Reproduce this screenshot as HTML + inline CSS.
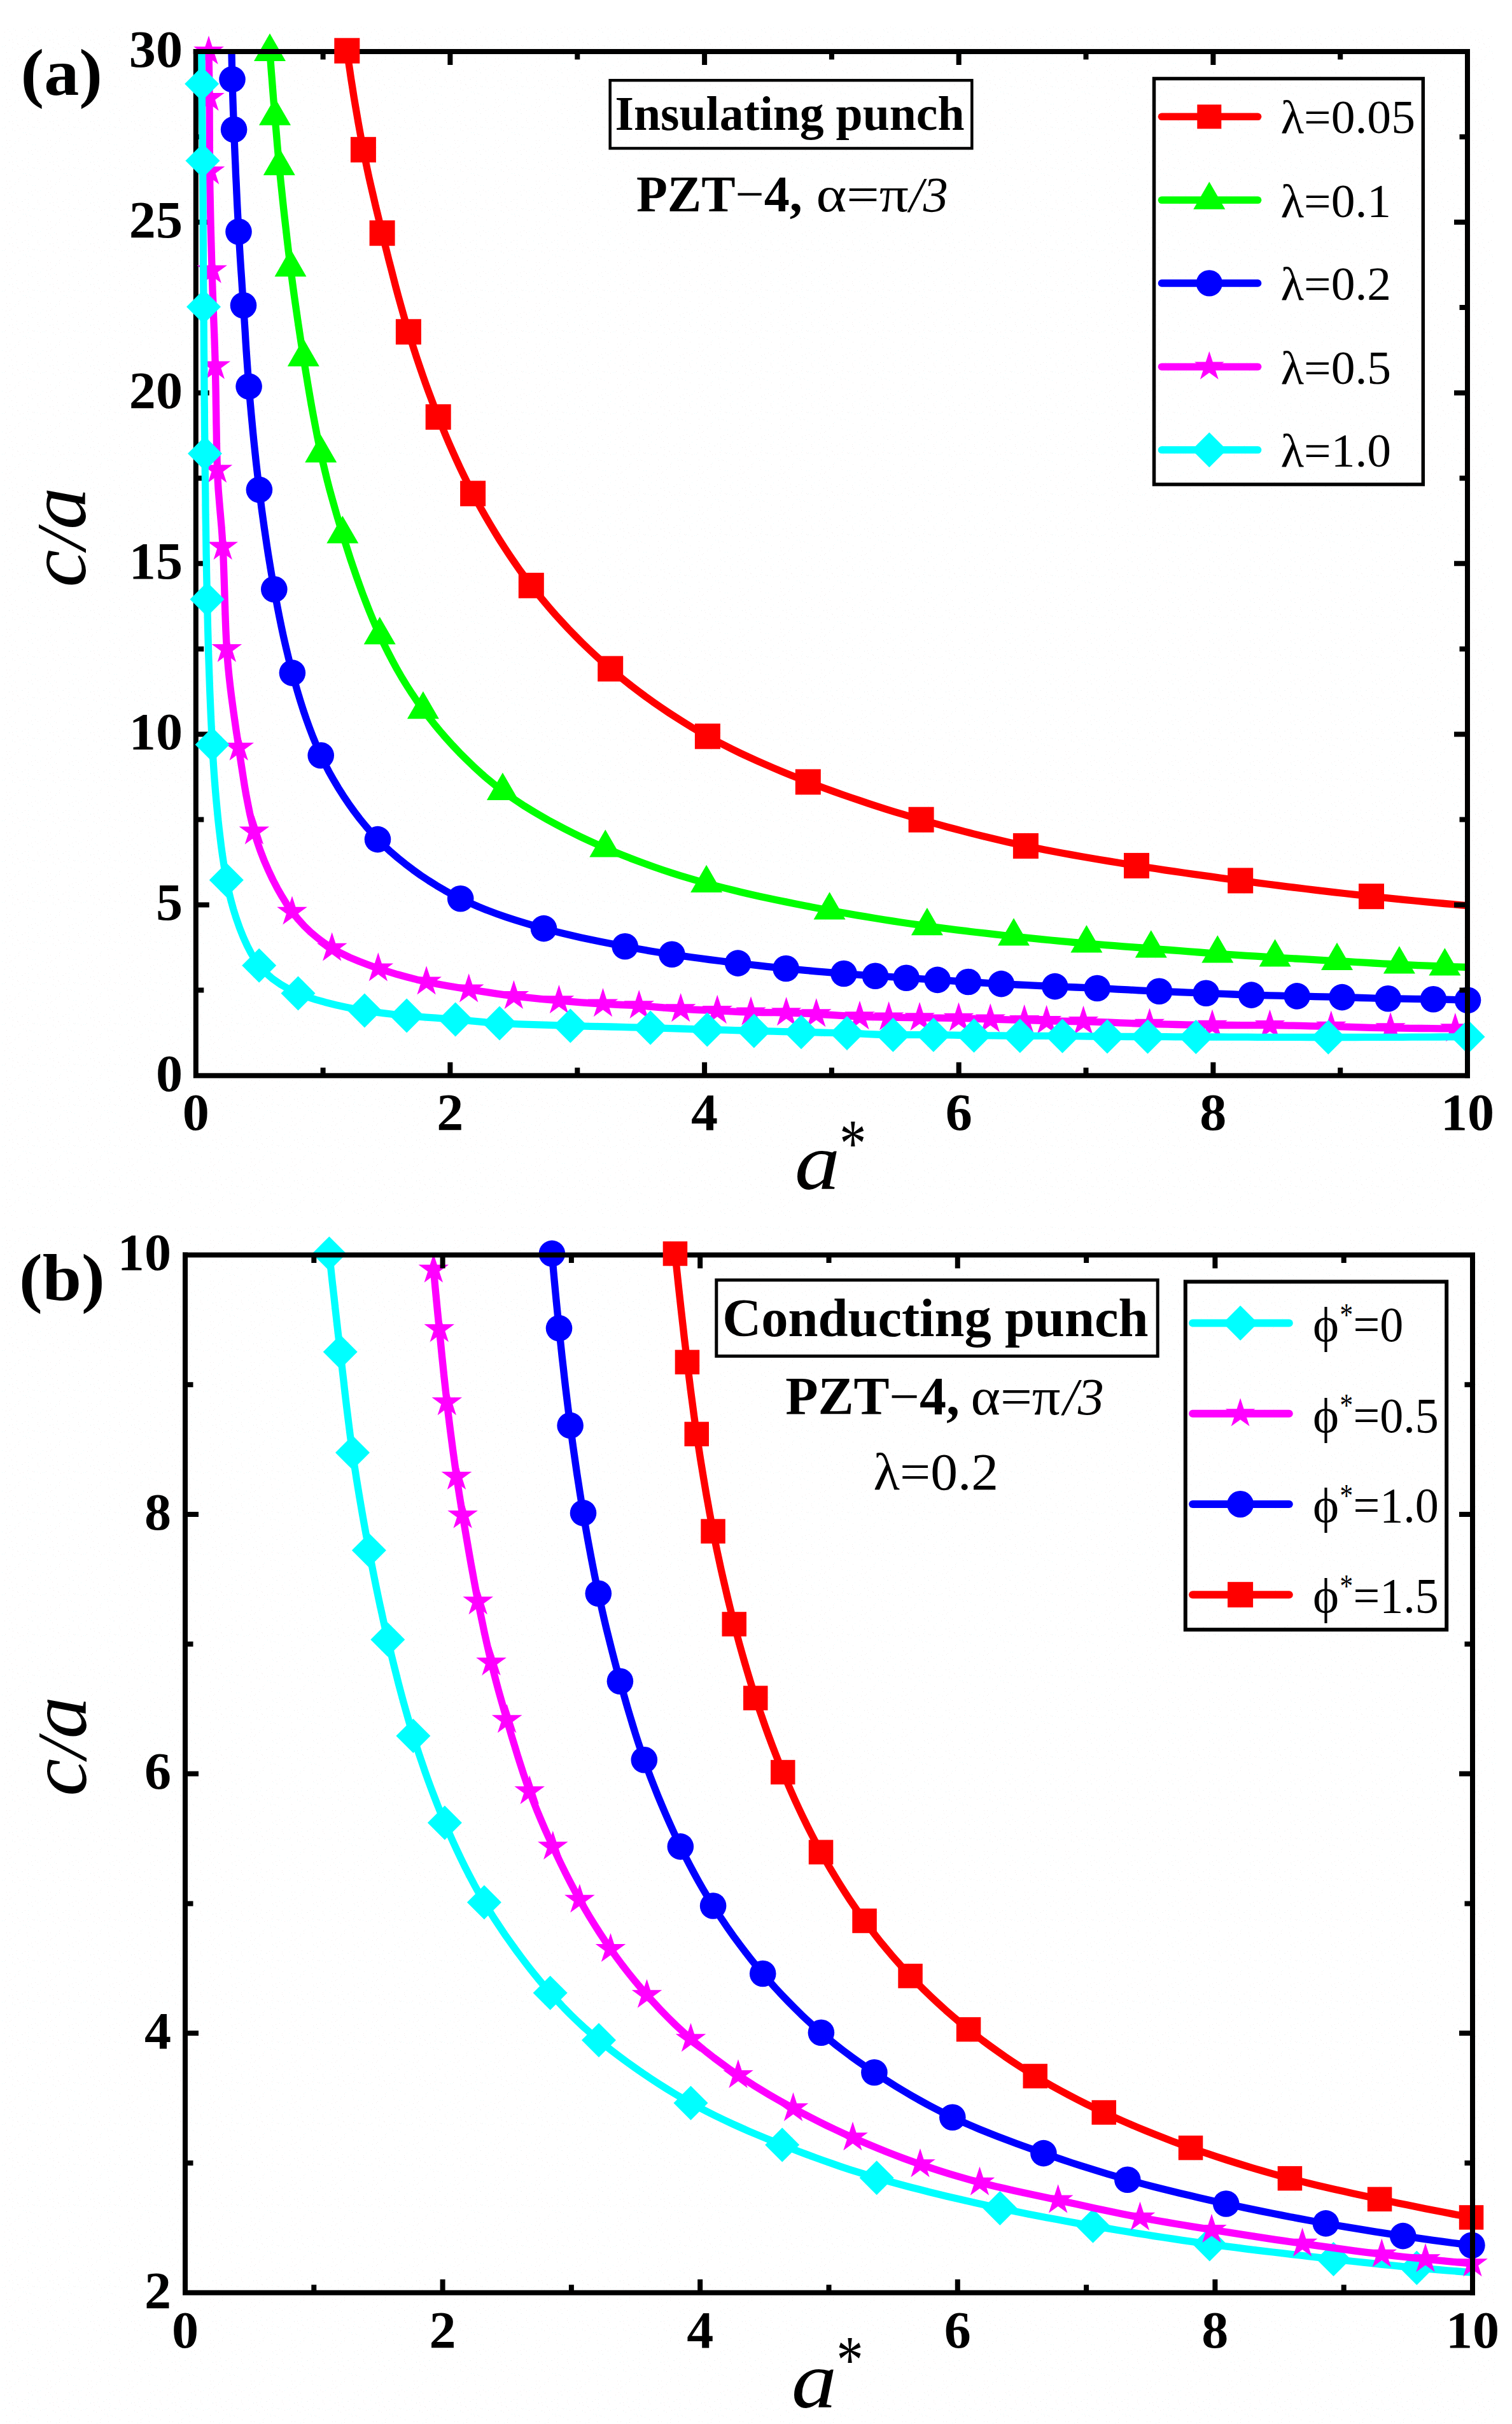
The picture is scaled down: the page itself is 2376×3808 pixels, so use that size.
<!DOCTYPE html>
<html><head><meta charset="utf-8"><title>c/a versus a*</title>
<style>html,body{margin:0;padding:0;background:#fff}svg{display:block}text{font-family:"Liberation Serif",serif;fill:#000}</style></head><body>
<svg width="2376" height="3808" viewBox="0 0 2376 3808">
<defs>
<clipPath id="ca"><rect x="307.8" y="80.9" width="1998.2" height="1608.8"/></clipPath>
<clipPath id="cb"><rect x="291.0" y="1971.5" width="2023.0" height="1630.2"/></clipPath>
<pattern id="tex" width="64" height="64" patternUnits="userSpaceOnUse"><rect width="64" height="64" fill="#ffffff"/><rect x="41" y="19" width="1" height="1" fill="#f5eded"/><rect x="6" y="9" width="1" height="1" fill="#eafbfb"/><rect x="12" y="46" width="1" height="1" fill="#f5eded"/><rect x="27" y="4" width="1" height="1" fill="#f5eded"/><rect x="53" y="8" width="1" height="1" fill="#f5eded"/><rect x="54" y="7" width="1" height="1" fill="#eafbfb"/><rect x="15" y="28" width="1" height="1" fill="#f5eded"/><rect x="7" y="50" width="1" height="1" fill="#f5eded"/><rect x="28" y="5" width="1" height="1" fill="#f5eded"/><rect x="17" y="37" width="1" height="1" fill="#f5eded"/><rect x="15" y="39" width="1" height="1" fill="#f5eded"/><rect x="23" y="13" width="1" height="1" fill="#f5eded"/><rect x="24" y="47" width="1" height="1" fill="#f5eded"/><rect x="8" y="7" width="1" height="1" fill="#f5eded"/><rect x="63" y="54" width="1" height="1" fill="#eafbfb"/><rect x="59" y="58" width="1" height="1" fill="#f5eded"/><rect x="31" y="23" width="1" height="1" fill="#eafbfb"/><rect x="31" y="10" width="1" height="1" fill="#f5eded"/><rect x="63" y="43" width="1" height="1" fill="#eafbfb"/><rect x="36" y="9" width="1" height="1" fill="#f5eded"/><rect x="53" y="21" width="1" height="1" fill="#eafbfb"/><rect x="19" y="62" width="1" height="1" fill="#f5eded"/><rect x="9" y="40" width="1" height="1" fill="#f5eded"/><rect x="44" y="63" width="1" height="1" fill="#f5eded"/><rect x="58" y="8" width="1" height="1" fill="#eafbfb"/><rect x="34" y="60" width="1" height="1" fill="#eafbfb"/><rect x="39" y="57" width="1" height="1" fill="#f5eded"/><rect x="49" y="44" width="1" height="1" fill="#f5eded"/><rect x="59" y="45" width="1" height="1" fill="#f5eded"/><rect x="14" y="63" width="1" height="1" fill="#f5eded"/><rect x="36" y="16" width="1" height="1" fill="#eafbfb"/><rect x="50" y="50" width="1" height="1" fill="#eafbfb"/><rect x="63" y="10" width="1" height="1" fill="#f5eded"/><rect x="51" y="35" width="1" height="1" fill="#eafbfb"/><rect x="55" y="35" width="1" height="1" fill="#eafbfb"/><rect x="45" y="48" width="1" height="1" fill="#eafbfb"/><rect x="19" y="10" width="1" height="1" fill="#f5eded"/><rect x="29" y="29" width="1" height="1" fill="#f5eded"/><rect x="23" y="33" width="1" height="1" fill="#f5eded"/><rect x="18" y="53" width="1" height="1" fill="#f5eded"/><rect x="40" y="16" width="1" height="1" fill="#eafbfb"/><rect x="6" y="58" width="1" height="1" fill="#eafbfb"/><rect x="51" y="50" width="1" height="1" fill="#f5eded"/><rect x="51" y="7" width="1" height="1" fill="#f5eded"/><rect x="26" y="56" width="1" height="1" fill="#f5eded"/><rect x="43" y="6" width="1" height="1" fill="#f5eded"/><rect x="19" y="12" width="1" height="1" fill="#eafbfb"/><rect x="3" y="9" width="1" height="1" fill="#eafbfb"/><rect x="48" y="19" width="1" height="1" fill="#f5eded"/><rect x="44" y="46" width="1" height="1" fill="#f5eded"/><rect x="14" y="62" width="1" height="1" fill="#eafbfb"/><rect x="59" y="61" width="1" height="1" fill="#f5eded"/><rect x="10" y="18" width="1" height="1" fill="#f5eded"/><rect x="43" y="33" width="1" height="1" fill="#f5eded"/><rect x="20" y="2" width="1" height="1" fill="#f5eded"/><rect x="46" y="18" width="1" height="1" fill="#eafbfb"/><rect x="3" y="38" width="1" height="1" fill="#eafbfb"/><rect x="11" y="33" width="1" height="1" fill="#f5eded"/><rect x="21" y="45" width="1" height="1" fill="#eafbfb"/><rect x="42" y="28" width="1" height="1" fill="#f5eded"/><rect x="24" y="30" width="1" height="1" fill="#eafbfb"/><rect x="29" y="25" width="1" height="1" fill="#f5eded"/><rect x="45" y="3" width="1" height="1" fill="#eafbfb"/><rect x="35" y="60" width="1" height="1" fill="#f5eded"/><rect x="44" y="57" width="1" height="1" fill="#eafbfb"/><rect x="10" y="28" width="1" height="1" fill="#f5eded"/><rect x="60" y="25" width="1" height="1" fill="#f5eded"/><rect x="61" y="0" width="1" height="1" fill="#f5eded"/><rect x="44" y="10" width="1" height="1" fill="#eafbfb"/><rect x="15" y="49" width="1" height="1" fill="#eafbfb"/><rect x="25" y="61" width="1" height="1" fill="#eafbfb"/><rect x="55" y="42" width="1" height="1" fill="#f5eded"/></pattern>
</defs>
<rect x="0" y="0" width="2376" height="3808" fill="#ffffff"/>
<rect x="0" y="42" width="2347" height="1871" fill="url(#tex)"/>
<rect x="0" y="1926" width="2351" height="1882" fill="url(#tex)"/>
<g id="panel-a">
<path d="M307.8 76.9V1689.7H2310.0M507.6 1689.7v-12.5M707.4 1689.7v-21.0M907.3 1689.7v-12.5M1107.1 1689.7v-21.0M1306.9 1689.7v-12.5M1506.7 1689.7v-21.0M1706.5 1689.7v-12.5M1906.4 1689.7v-21.0M2106.2 1689.7v-12.5M307.8 1555.6h12.5M307.8 1421.6h21.0M307.8 1287.5h12.5M307.8 1153.4h21.0M307.8 1019.4h12.5M307.8 885.3h21.0M307.8 751.2h12.5M307.8 617.2h21.0M307.8 483.1h12.5M307.8 349.0h21.0M307.8 215.0h12.5" stroke="#000" stroke-width="8" fill="none" stroke-linejoin="miter"/>
<text transform="translate(307.8,1774.6) scale(1.0200,1.0000)" font-size="82.5" text-anchor="middle" font-weight="bold" font-style="normal">0</text>
<text transform="translate(707.4,1774.6) scale(1.0200,1.0000)" font-size="82.5" text-anchor="middle" font-weight="bold" font-style="normal">2</text>
<text transform="translate(1107.1,1774.6) scale(1.0200,1.0000)" font-size="82.5" text-anchor="middle" font-weight="bold" font-style="normal">4</text>
<text transform="translate(1506.7,1774.6) scale(1.0200,1.0000)" font-size="82.5" text-anchor="middle" font-weight="bold" font-style="normal">6</text>
<text transform="translate(1906.4,1774.6) scale(1.0200,1.0000)" font-size="82.5" text-anchor="middle" font-weight="bold" font-style="normal">8</text>
<text transform="translate(2306.0,1774.6) scale(1.0200,1.0000)" font-size="82.5" text-anchor="middle" font-weight="bold" font-style="normal">10</text>
<text transform="translate(287.0,1713.5) scale(1.0200,1.0000)" font-size="82.5" text-anchor="end" font-weight="bold" font-style="normal">0</text>
<text transform="translate(287.0,1445.4) scale(1.0200,1.0000)" font-size="82.5" text-anchor="end" font-weight="bold" font-style="normal">5</text>
<text transform="translate(287.0,1177.2) scale(1.0200,1.0000)" font-size="82.5" text-anchor="end" font-weight="bold" font-style="normal">10</text>
<text transform="translate(287.0,909.1) scale(1.0200,1.0000)" font-size="82.5" text-anchor="end" font-weight="bold" font-style="normal">15</text>
<text transform="translate(287.0,641.0) scale(1.0200,1.0000)" font-size="82.5" text-anchor="end" font-weight="bold" font-style="normal">20</text>
<text transform="translate(287.0,372.8) scale(1.0200,1.0000)" font-size="82.5" text-anchor="end" font-weight="bold" font-style="normal">25</text>
<text transform="translate(287.0,104.7) scale(1.0200,1.0000)" font-size="82.5" text-anchor="end" font-weight="bold" font-style="normal">30</text>
<polyline points="424.0,81.5 425.2,96.7 426.3,111.6 427.5,126.3 428.6,140.7 429.7,154.9 430.9,168.8 432.0,182.4 433.3,198.3 434.6,213.2 435.8,228.1 437.2,243.6 438.8,260.8 440.0,273.1 441.3,286.3 442.8,300.3 444.3,314.8 445.9,329.8 447.6,345.0 449.4,360.4 451.1,375.7 452.9,390.9 454.7,405.7 456.5,420.0 458.3,434.4 460.2,448.7 462.1,462.8 464.1,476.8 466.1,490.8 468.1,504.7 470.2,518.7 472.3,532.7 474.5,546.8 476.8,561.0 479.2,576.0 481.7,591.1 484.2,606.4 486.8,621.8 489.5,637.2 492.3,652.5 495.2,667.7 498.1,682.7 501.1,697.6 504.2,712.1 507.5,726.7 510.9,740.9 514.3,754.9 517.9,768.7 521.7,782.5 525.6,796.3 529.6,810.3 533.9,824.5 538.3,839.1 542.3,851.9 546.5,865.0 550.8,878.4 555.4,892.0 560.1,905.7 565.0,919.4 570.0,933.1 575.2,946.6 580.4,959.9 585.8,973.0 591.2,985.6 596.7,997.8 603.3,1011.8 610.1,1025.4 617.0,1038.7 624.1,1051.7 631.5,1064.5 639.3,1077.1 647.4,1089.7 655.9,1102.3 664.9,1114.9 673.2,1125.9 682.0,1137.1 691.3,1148.4 701.1,1159.7 711.3,1171.0 721.9,1182.2 732.8,1193.1 743.9,1203.8 755.2,1214.2 766.7,1224.2 778.3,1233.7 789.9,1242.7 801.0,1250.8 812.6,1258.7 824.4,1266.4 836.6,1273.9 848.9,1281.2 861.5,1288.4 874.3,1295.3 887.1,1302.0 900.0,1308.5 912.9,1314.8 925.8,1320.8 938.6,1326.6 951.3,1332.1 964.3,1337.6 977.3,1342.9 990.2,1348.1 1003.2,1353.0 1016.2,1357.8 1029.3,1362.5 1042.4,1367.0 1055.7,1371.4 1069.0,1375.6 1082.5,1379.7 1096.2,1383.7 1110.1,1387.6 1123.3,1391.1 1136.7,1394.6 1150.5,1398.0 1164.4,1401.4 1178.4,1404.7 1192.6,1407.9 1206.8,1411.0 1221.0,1414.0 1235.2,1416.9 1249.2,1419.8 1263.2,1422.5 1276.9,1425.2 1290.4,1427.8 1303.6,1430.2 1318.2,1432.8 1332.6,1435.4 1346.8,1437.9 1360.9,1440.2 1374.9,1442.5 1388.7,1444.8 1402.5,1446.9 1416.2,1449.0 1429.8,1451.0 1443.4,1452.9 1456.9,1454.8 1472.4,1456.9 1487.9,1458.9 1503.3,1460.8 1518.6,1462.7 1533.7,1464.5 1548.8,1466.2 1563.7,1467.9 1578.4,1469.5 1593.0,1471.1 1607.8,1472.7 1622.4,1474.2 1636.9,1475.6 1651.2,1477.0 1665.4,1478.4 1679.5,1479.7 1693.5,1481.0 1707.4,1482.2 1722.2,1483.4 1736.8,1484.6 1751.2,1485.7 1765.5,1486.8 1779.9,1487.9 1794.3,1489.0 1808.8,1490.1 1823.7,1491.3 1838.8,1492.5 1853.9,1493.7 1869.0,1494.9 1884.0,1496.0 1898.8,1497.1 1913.3,1498.2 1928.7,1499.3 1943.8,1500.3 1958.6,1501.3 1973.5,1502.2 1988.4,1503.2 2003.6,1504.1 2019.6,1505.1 2035.8,1506.0 2052.1,1506.9 2068.4,1507.9 2084.7,1508.8 2101.0,1509.7 2115.1,1510.5 2129.4,1511.4 2143.8,1512.2 2158.0,1513.0 2172.1,1513.8 2185.7,1514.5 2198.9,1515.2 2214.3,1515.9 2229.5,1516.6 2244.2,1517.2 2257.9,1517.7 2270.4,1518.2 2289.0,1518.9 2306.0,1519.5 2323.1,1520.0 2340.0,1520.5" fill="none" stroke="#00ff00" stroke-width="11.3" stroke-linejoin="round" stroke-linecap="butt" clip-path="url(#ca)"/>
<polygon points="424.0,52.6 399.0,95.9 449.0,95.9" fill="#00ff00"/>
<polygon points="432.0,153.5 407.0,196.8 457.0,196.8" fill="#00ff00"/>
<polygon points="438.8,231.9 413.8,275.2 463.8,275.2" fill="#00ff00"/>
<polygon points="456.5,391.1 431.5,434.4 481.5,434.4" fill="#00ff00"/>
<polygon points="476.8,532.1 451.8,575.4 501.8,575.4" fill="#00ff00"/>
<polygon points="504.2,683.2 479.2,726.5 529.2,726.5" fill="#00ff00"/>
<polygon points="538.3,810.2 513.3,853.5 563.3,853.5" fill="#00ff00"/>
<polygon points="596.7,968.9 571.7,1012.2 621.7,1012.2" fill="#00ff00"/>
<polygon points="664.9,1086.0 639.9,1129.3 689.9,1129.3" fill="#00ff00"/>
<polygon points="789.9,1213.8 764.9,1257.1 814.9,1257.1" fill="#00ff00"/>
<polygon points="951.3,1303.2 926.3,1346.5 976.3,1346.5" fill="#00ff00"/>
<polygon points="1110.1,1358.7 1085.1,1402.0 1135.1,1402.0" fill="#00ff00"/>
<polygon points="1303.6,1401.3 1278.6,1444.6 1328.6,1444.6" fill="#00ff00"/>
<polygon points="1456.9,1425.9 1431.9,1469.2 1481.9,1469.2" fill="#00ff00"/>
<polygon points="1593.0,1442.2 1568.0,1485.5 1618.0,1485.5" fill="#00ff00"/>
<polygon points="1707.4,1453.3 1682.4,1496.6 1732.4,1496.6" fill="#00ff00"/>
<polygon points="1808.8,1461.2 1783.8,1504.5 1833.8,1504.5" fill="#00ff00"/>
<polygon points="1913.3,1469.3 1888.3,1512.6 1938.3,1512.6" fill="#00ff00"/>
<polygon points="2003.6,1475.2 1978.6,1518.5 2028.6,1518.5" fill="#00ff00"/>
<polygon points="2101.0,1480.8 2076.0,1524.1 2126.0,1524.1" fill="#00ff00"/>
<polygon points="2198.9,1486.3 2173.9,1529.6 2223.9,1529.6" fill="#00ff00"/>
<polygon points="2270.4,1489.3 2245.4,1532.6 2295.4,1532.6" fill="#00ff00"/>
<polyline points="363.2,40.0 363.4,54.3 363.7,68.5 364.0,82.7 364.3,96.7 364.6,110.7 365.0,124.6 365.4,140.1 365.9,155.1 366.4,170.2 367.0,186.1 367.6,203.5 368.1,216.0 368.6,229.5 369.2,243.7 369.9,258.6 370.5,274.0 371.3,289.5 372.0,305.1 372.7,320.6 373.5,335.7 374.3,350.2 375.0,364.0 375.9,379.3 376.8,394.1 377.7,408.5 378.6,422.7 379.6,436.7 380.5,450.8 381.5,465.1 382.5,479.7 383.4,493.5 384.3,507.3 385.2,521.2 386.0,535.1 386.9,549.1 387.9,563.3 388.9,577.7 390.0,592.3 391.1,607.1 392.2,621.1 393.5,635.5 394.8,650.0 396.2,664.8 397.6,679.7 399.1,694.8 400.7,709.8 402.3,724.9 404.0,739.8 405.7,754.7 407.4,769.4 409.2,783.8 411.0,798.2 413.0,812.7 415.0,827.1 417.1,841.5 419.2,855.8 421.4,870.1 423.7,884.2 426.0,898.2 428.4,912.1 430.8,925.7 433.6,940.8 436.4,955.8 439.3,970.5 442.3,985.1 445.4,999.6 448.7,1014.0 452.1,1028.3 455.6,1042.7 459.4,1057.1 463.4,1071.7 467.5,1086.3 471.9,1100.8 476.5,1115.4 481.4,1129.8 486.6,1144.2 492.1,1158.5 498.0,1172.7 504.2,1186.8 510.2,1199.2 516.7,1211.9 523.8,1224.5 531.3,1237.2 539.3,1249.8 547.6,1262.2 556.3,1274.4 565.3,1286.2 574.5,1297.5 583.9,1308.4 593.5,1318.6 603.5,1328.5 614.1,1338.3 625.3,1347.9 636.9,1357.2 648.9,1366.3 661.1,1375.1 673.6,1383.4 686.2,1391.3 698.8,1398.7 711.3,1405.6 723.7,1411.8 737.8,1418.3 752.1,1424.5 766.5,1430.3 781.1,1435.7 795.8,1440.8 810.5,1445.6 825.2,1450.2 839.9,1454.5 854.5,1458.6 868.8,1462.4 883.5,1466.0 898.3,1469.5 913.2,1472.9 927.8,1476.0 942.2,1479.0 956.2,1481.8 969.6,1484.4 982.2,1486.8 997.9,1489.7 1012.4,1492.3 1026.4,1494.7 1040.7,1497.0 1055.9,1499.3 1069.9,1501.4 1084.7,1503.5 1099.9,1505.5 1115.4,1507.6 1130.7,1509.5 1145.5,1511.4 1159.6,1513.1 1175.3,1515.0 1190.3,1516.7 1205.0,1518.4 1219.7,1519.9 1235.1,1521.5 1250.1,1522.9 1265.8,1524.4 1281.8,1525.8 1297.5,1527.2 1312.4,1528.4 1326.0,1529.5 1343.6,1530.9 1359.5,1532.1 1375.5,1533.2 1391.8,1534.2 1408.0,1535.2 1424.2,1536.2 1440.5,1537.3 1456.9,1538.3 1473.2,1539.4 1489.3,1540.4 1505.3,1541.5 1521.5,1542.5 1538.2,1543.5 1555.1,1544.6 1573.4,1545.6 1586.4,1546.3 1600.3,1547.0 1614.9,1547.6 1629.6,1548.3 1644.1,1549.0 1657.8,1549.6 1674.7,1550.3 1690.7,1551.0 1706.9,1551.7 1724.2,1552.5 1739.5,1553.2 1755.8,1554.1 1772.6,1554.9 1789.5,1555.8 1805.9,1556.6 1821.6,1557.3 1837.0,1557.9 1851.8,1558.5 1866.3,1559.1 1880.7,1559.6 1895.2,1560.2 1909.5,1560.8 1923.8,1561.4 1938.0,1562.0 1952.2,1562.6 1966.5,1563.1 1980.8,1563.5 1995.2,1563.9 2009.5,1564.2 2023.9,1564.6 2038.2,1564.9 2052.4,1565.2 2066.5,1565.6 2080.7,1565.9 2094.8,1566.2 2109.0,1566.6 2123.4,1567.0 2137.9,1567.5 2152.3,1567.9 2166.8,1568.4 2181.2,1568.7 2195.6,1568.9 2210.2,1569.1 2224.7,1569.3 2238.8,1569.5 2252.4,1569.7 2271.2,1570.1 2289.3,1570.7 2306.5,1571.3" fill="none" stroke="#0000ff" stroke-width="11.3" stroke-linejoin="round" stroke-linecap="butt" clip-path="url(#ca)"/>
<circle cx="365.0" cy="124.6" r="20.8" fill="#0000ff"/>
<circle cx="367.6" cy="203.5" r="20.8" fill="#0000ff"/>
<circle cx="375.0" cy="364.0" r="20.8" fill="#0000ff"/>
<circle cx="382.5" cy="479.7" r="20.8" fill="#0000ff"/>
<circle cx="391.1" cy="607.1" r="20.8" fill="#0000ff"/>
<circle cx="407.4" cy="769.4" r="20.8" fill="#0000ff"/>
<circle cx="430.8" cy="925.7" r="20.8" fill="#0000ff"/>
<circle cx="459.4" cy="1057.1" r="20.8" fill="#0000ff"/>
<circle cx="504.2" cy="1186.8" r="20.8" fill="#0000ff"/>
<circle cx="593.5" cy="1318.6" r="20.8" fill="#0000ff"/>
<circle cx="723.7" cy="1411.8" r="20.8" fill="#0000ff"/>
<circle cx="854.5" cy="1458.6" r="20.8" fill="#0000ff"/>
<circle cx="982.2" cy="1486.8" r="20.8" fill="#0000ff"/>
<circle cx="1055.9" cy="1499.3" r="20.8" fill="#0000ff"/>
<circle cx="1159.6" cy="1513.1" r="20.8" fill="#0000ff"/>
<circle cx="1235.1" cy="1521.5" r="20.8" fill="#0000ff"/>
<circle cx="1326.0" cy="1529.5" r="20.8" fill="#0000ff"/>
<circle cx="1375.5" cy="1533.2" r="20.8" fill="#0000ff"/>
<circle cx="1424.2" cy="1536.2" r="20.8" fill="#0000ff"/>
<circle cx="1473.2" cy="1539.4" r="20.8" fill="#0000ff"/>
<circle cx="1521.5" cy="1542.5" r="20.8" fill="#0000ff"/>
<circle cx="1573.4" cy="1545.6" r="20.8" fill="#0000ff"/>
<circle cx="1657.8" cy="1549.6" r="20.8" fill="#0000ff"/>
<circle cx="1724.2" cy="1552.5" r="20.8" fill="#0000ff"/>
<circle cx="1821.6" cy="1557.3" r="20.8" fill="#0000ff"/>
<circle cx="1895.2" cy="1560.2" r="20.8" fill="#0000ff"/>
<circle cx="1966.5" cy="1563.1" r="20.8" fill="#0000ff"/>
<circle cx="2038.2" cy="1564.9" r="20.8" fill="#0000ff"/>
<circle cx="2109.0" cy="1566.6" r="20.8" fill="#0000ff"/>
<circle cx="2181.2" cy="1568.7" r="20.8" fill="#0000ff"/>
<circle cx="2252.4" cy="1569.7" r="20.8" fill="#0000ff"/>
<circle cx="2306.5" cy="1571.3" r="20.8" fill="#0000ff"/>
<polyline points="328.0,80.9 328.2,94.1 328.5,108.0 328.7,122.6 328.9,137.8 329.0,153.7 329.1,166.7 329.2,180.3 329.2,194.3 329.3,208.7 329.3,223.5 329.4,238.5 329.5,253.8 329.6,269.2 329.7,282.4 329.9,296.0 330.2,309.9 330.5,324.0 330.8,338.3 331.1,352.7 331.5,367.2 331.9,381.7 332.3,396.1 332.7,410.4 333.1,424.5 333.5,439.6 334.0,454.7 334.6,469.7 335.2,484.7 335.7,499.7 336.3,514.7 336.9,529.7 337.4,544.8 337.9,560.0 338.3,575.3 338.6,589.9 338.9,604.8 339.2,619.9 339.4,635.0 339.7,650.2 339.9,665.4 340.2,680.4 340.4,695.2 340.7,709.8 341.1,724.1 341.5,738.0 342.2,753.9 343.1,769.1 344.3,783.9 345.5,798.5 346.8,813.2 348.1,828.0 349.2,843.2 350.2,859.0 350.9,872.7 351.4,886.8 351.9,901.2 352.4,915.9 352.9,930.7 353.3,945.6 353.8,960.5 354.3,975.5 354.9,990.4 355.6,1005.1 356.4,1019.7 357.4,1034.0 358.6,1048.2 360.0,1062.5 361.6,1076.8 363.3,1091.0 365.2,1105.2 367.1,1119.3 369.1,1133.3 371.1,1147.2 373.2,1160.9 375.2,1174.5 377.4,1189.7 379.7,1204.7 382.0,1219.5 384.3,1234.3 386.8,1248.8 389.6,1263.3 392.5,1277.7 395.8,1292.0 399.4,1306.2 403.8,1321.0 409.0,1336.1 414.9,1351.4 421.5,1366.6 428.5,1381.5 435.9,1395.7 443.6,1409.1 451.3,1421.5 459.0,1432.4 468.3,1443.9 478.1,1454.7 488.5,1464.7 499.3,1473.8 510.4,1482.1 521.7,1489.5 535.3,1497.2 549.6,1504.1 564.4,1510.3 579.4,1516.0 594.3,1521.3 609.3,1526.2 624.6,1530.8 639.9,1535.0 655.1,1538.9 670.1,1542.3 686.9,1545.7 703.5,1548.7 720.0,1551.5 736.7,1554.2 750.7,1556.5 764.8,1558.7 779.0,1560.9 793.2,1562.9 807.4,1564.7 821.6,1566.3 835.8,1567.9 850.0,1569.3 864.3,1570.6 878.4,1571.9 895.9,1573.4 913.4,1574.8 930.7,1576.0 947.5,1577.1 962.0,1577.9 975.9,1578.5 989.9,1579.1 1004.2,1579.9 1020.3,1581.1 1036.9,1582.5 1053.5,1583.9 1069.7,1585.0 1084.4,1585.8 1098.8,1586.5 1113.1,1587.2 1127.2,1587.8 1144.9,1588.7 1162.4,1589.6 1180.0,1590.2 1198.6,1590.5 1217.4,1590.7 1235.6,1591.0 1251.3,1591.5 1266.6,1592.2 1282.8,1593.0 1299.3,1594.0 1317.0,1595.1 1334.6,1596.2 1351.0,1597.0 1366.8,1597.5 1381.7,1597.8 1396.7,1598.1 1412.5,1598.4 1428.5,1598.7 1445.1,1598.9 1460.1,1599.1 1475.7,1599.2 1491.4,1599.3 1506.5,1599.5 1523.4,1599.9 1539.8,1600.6 1556.3,1601.2 1574.4,1601.7 1592.7,1602.2 1609.7,1602.7 1627.1,1603.2 1644.6,1603.7 1657.6,1604.0 1671.6,1604.2 1686.6,1604.5 1702.5,1604.8 1715.7,1605.2 1730.0,1605.7 1745.0,1606.2 1760.5,1606.8 1776.1,1607.4 1791.5,1608.0 1806.5,1608.4 1820.7,1608.8 1835.0,1609.1 1849.1,1609.5 1863.2,1609.8 1877.2,1610.1 1891.2,1610.3 1905.0,1610.4 1920.3,1610.5 1935.3,1610.5 1950.3,1610.6 1965.3,1610.6 1980.3,1610.6 1995.5,1610.7 2011.4,1610.8 2027.4,1611.1 2043.6,1611.4 2059.7,1611.8 2075.8,1612.1 2091.8,1612.5 2107.4,1612.9 2122.9,1613.4 2138.3,1613.8 2153.8,1614.3 2169.3,1614.7 2185.1,1615.0 2200.2,1615.2 2216.3,1615.4 2232.9,1615.5 2249.0,1615.7 2263.9,1615.8 2276.8,1615.9 2286.8,1616.0 2296.9,1616.1 2306.0,1616.2 2321.8,1616.3 2340.0,1616.5" fill="none" stroke="#ff00ff" stroke-width="11.3" stroke-linejoin="round" stroke-linecap="butt" clip-path="url(#ca)"/>
<polygon points="328.0,55.9 333.6,73.2 351.8,73.2 337.1,83.9 342.7,101.1 328.0,90.5 313.3,101.1 318.9,83.9 304.2,73.2 322.4,73.2" fill="#ff00ff"/>
<polygon points="329.0,128.7 334.6,146.0 352.8,146.0 338.1,156.7 343.7,173.9 329.0,163.2 314.3,173.9 319.9,156.7 305.2,146.0 323.4,146.0" fill="#ff00ff"/>
<polygon points="329.6,244.2 335.2,261.5 353.4,261.5 338.7,272.2 344.3,289.4 329.6,278.8 314.9,289.4 320.5,272.2 305.8,261.5 324.0,261.5" fill="#ff00ff"/>
<polygon points="333.1,399.5 338.7,416.8 356.9,416.8 342.2,427.5 347.8,444.7 333.1,434.1 318.4,444.7 324.0,427.5 309.3,416.8 327.5,416.8" fill="#ff00ff"/>
<polygon points="338.3,550.3 343.9,567.6 362.1,567.6 347.4,578.3 353.0,595.5 338.3,584.8 323.6,595.5 329.2,578.3 314.5,567.6 332.7,567.6" fill="#ff00ff"/>
<polygon points="341.5,713.0 347.1,730.3 365.3,730.3 350.6,741.0 356.2,758.2 341.5,747.5 326.8,758.2 332.4,741.0 317.7,730.3 335.9,730.3" fill="#ff00ff"/>
<polygon points="350.2,834.0 355.8,851.3 374.0,851.3 359.3,862.0 364.9,879.2 350.2,868.5 335.5,879.2 341.1,862.0 326.4,851.3 344.6,851.3" fill="#ff00ff"/>
<polygon points="356.4,994.7 362.0,1012.0 380.2,1012.0 365.5,1022.7 371.1,1039.9 356.4,1029.2 341.7,1039.9 347.3,1022.7 332.6,1012.0 350.8,1012.0" fill="#ff00ff"/>
<polygon points="375.2,1149.5 380.8,1166.8 399.0,1166.8 384.3,1177.5 389.9,1194.7 375.2,1184.0 360.5,1194.7 366.1,1177.5 351.4,1166.8 369.6,1166.8" fill="#ff00ff"/>
<polygon points="399.4,1281.2 405.0,1298.5 423.2,1298.5 408.5,1309.2 414.1,1326.4 399.4,1315.8 384.7,1326.4 390.3,1309.2 375.6,1298.5 393.8,1298.5" fill="#ff00ff"/>
<polygon points="459.0,1407.4 464.6,1424.7 482.8,1424.7 468.1,1435.4 473.7,1452.6 459.0,1442.0 444.3,1452.6 449.9,1435.4 435.2,1424.7 453.4,1424.7" fill="#ff00ff"/>
<polygon points="521.7,1464.5 527.3,1481.8 545.5,1481.8 530.8,1492.5 536.4,1509.7 521.7,1499.0 507.0,1509.7 512.6,1492.5 497.9,1481.8 516.1,1481.8" fill="#ff00ff"/>
<polygon points="594.3,1496.3 599.9,1513.6 618.1,1513.6 603.4,1524.3 609.0,1541.5 594.3,1530.8 579.6,1541.5 585.2,1524.3 570.5,1513.6 588.7,1513.6" fill="#ff00ff"/>
<polygon points="670.1,1517.3 675.7,1534.6 693.9,1534.6 679.2,1545.3 684.8,1562.5 670.1,1551.8 655.4,1562.5 661.0,1545.3 646.3,1534.6 664.5,1534.6" fill="#ff00ff"/>
<polygon points="736.7,1529.2 742.3,1546.5 760.5,1546.5 745.8,1557.2 751.4,1574.4 736.7,1563.8 722.0,1574.4 727.6,1557.2 712.9,1546.5 731.1,1546.5" fill="#ff00ff"/>
<polygon points="807.4,1539.7 813.0,1557.0 831.2,1557.0 816.5,1567.7 822.1,1584.9 807.4,1574.2 792.7,1584.9 798.3,1567.7 783.6,1557.0 801.8,1557.0" fill="#ff00ff"/>
<polygon points="878.4,1546.9 884.0,1564.2 902.2,1564.2 887.5,1574.9 893.1,1592.1 878.4,1581.5 863.7,1592.1 869.3,1574.9 854.6,1564.2 872.8,1564.2" fill="#ff00ff"/>
<polygon points="947.5,1552.1 953.1,1569.4 971.3,1569.4 956.6,1580.1 962.2,1597.3 947.5,1586.6 932.8,1597.3 938.4,1580.1 923.7,1569.4 941.9,1569.4" fill="#ff00ff"/>
<polygon points="1004.2,1554.9 1009.8,1572.2 1028.0,1572.2 1013.3,1582.9 1018.9,1600.1 1004.2,1589.5 989.5,1600.1 995.1,1582.9 980.4,1572.2 998.6,1572.2" fill="#ff00ff"/>
<polygon points="1069.7,1560.0 1075.3,1577.3 1093.5,1577.3 1078.8,1588.0 1084.4,1605.2 1069.7,1594.5 1055.0,1605.2 1060.6,1588.0 1045.9,1577.3 1064.1,1577.3" fill="#ff00ff"/>
<polygon points="1127.2,1562.8 1132.8,1580.1 1151.0,1580.1 1136.3,1590.8 1141.9,1608.0 1127.2,1597.3 1112.5,1608.0 1118.1,1590.8 1103.4,1580.1 1121.6,1580.1" fill="#ff00ff"/>
<polygon points="1180.0,1565.2 1185.6,1582.5 1203.8,1582.5 1189.1,1593.2 1194.7,1610.4 1180.0,1599.8 1165.3,1610.4 1170.9,1593.2 1156.2,1582.5 1174.4,1582.5" fill="#ff00ff"/>
<polygon points="1235.6,1566.0 1241.2,1583.3 1259.4,1583.3 1244.7,1594.0 1250.3,1611.2 1235.6,1600.5 1220.9,1611.2 1226.5,1594.0 1211.8,1583.3 1230.0,1583.3" fill="#ff00ff"/>
<polygon points="1282.8,1568.0 1288.4,1585.3 1306.6,1585.3 1291.9,1596.0 1297.5,1613.2 1282.8,1602.5 1268.1,1613.2 1273.7,1596.0 1259.0,1585.3 1277.2,1585.3" fill="#ff00ff"/>
<polygon points="1351.0,1572.0 1356.6,1589.3 1374.8,1589.3 1360.1,1600.0 1365.7,1617.2 1351.0,1606.5 1336.3,1617.2 1341.9,1600.0 1327.2,1589.3 1345.4,1589.3" fill="#ff00ff"/>
<polygon points="1396.7,1573.1 1402.3,1590.4 1420.5,1590.4 1405.8,1601.1 1411.4,1618.3 1396.7,1607.6 1382.0,1618.3 1387.6,1601.1 1372.9,1590.4 1391.1,1590.4" fill="#ff00ff"/>
<polygon points="1445.1,1573.9 1450.7,1591.2 1468.9,1591.2 1454.2,1601.9 1459.8,1619.1 1445.1,1608.5 1430.4,1619.1 1436.0,1601.9 1421.3,1591.2 1439.5,1591.2" fill="#ff00ff"/>
<polygon points="1506.5,1574.5 1512.1,1591.8 1530.3,1591.8 1515.6,1602.5 1521.2,1619.7 1506.5,1609.0 1491.8,1619.7 1497.4,1602.5 1482.7,1591.8 1500.9,1591.8" fill="#ff00ff"/>
<polygon points="1556.3,1576.2 1561.9,1593.5 1580.1,1593.5 1565.4,1604.2 1571.0,1621.4 1556.3,1610.8 1541.6,1621.4 1547.2,1604.2 1532.5,1593.5 1550.7,1593.5" fill="#ff00ff"/>
<polygon points="1609.7,1577.7 1615.3,1595.0 1633.5,1595.0 1618.8,1605.7 1624.4,1622.9 1609.7,1612.2 1595.0,1622.9 1600.6,1605.7 1585.9,1595.0 1604.1,1595.0" fill="#ff00ff"/>
<polygon points="1644.6,1578.7 1650.2,1596.0 1668.4,1596.0 1653.7,1606.7 1659.3,1623.9 1644.6,1613.2 1629.9,1623.9 1635.5,1606.7 1620.8,1596.0 1639.0,1596.0" fill="#ff00ff"/>
<polygon points="1702.5,1579.8 1708.1,1597.1 1726.3,1597.1 1711.6,1607.8 1717.2,1625.0 1702.5,1614.3 1687.8,1625.0 1693.4,1607.8 1678.7,1597.1 1696.9,1597.1" fill="#ff00ff"/>
<polygon points="1806.5,1583.4 1812.1,1600.7 1830.3,1600.7 1815.6,1611.4 1821.2,1628.6 1806.5,1618.0 1791.8,1628.6 1797.4,1611.4 1782.7,1600.7 1800.9,1600.7" fill="#ff00ff"/>
<polygon points="1905.0,1585.4 1910.6,1602.7 1928.8,1602.7 1914.1,1613.4 1919.7,1630.6 1905.0,1620.0 1890.3,1630.6 1895.9,1613.4 1881.2,1602.7 1899.4,1602.7" fill="#ff00ff"/>
<polygon points="1995.5,1585.7 2001.1,1603.0 2019.3,1603.0 2004.6,1613.7 2010.2,1630.9 1995.5,1620.2 1980.8,1630.9 1986.4,1613.7 1971.7,1603.0 1989.9,1603.0" fill="#ff00ff"/>
<polygon points="2091.8,1587.5 2097.4,1604.8 2115.6,1604.8 2100.9,1615.5 2106.5,1632.7 2091.8,1622.0 2077.1,1632.7 2082.7,1615.5 2068.0,1604.8 2086.2,1604.8" fill="#ff00ff"/>
<polygon points="2185.1,1590.0 2190.7,1607.3 2208.9,1607.3 2194.2,1618.0 2199.8,1635.2 2185.1,1624.5 2170.4,1635.2 2176.0,1618.0 2161.3,1607.3 2179.5,1607.3" fill="#ff00ff"/>
<polygon points="2286.8,1591.0 2292.4,1608.3 2310.6,1608.3 2295.9,1619.0 2301.5,1636.2 2286.8,1625.5 2272.1,1636.2 2277.7,1619.0 2263.0,1608.3 2281.2,1608.3" fill="#ff00ff"/>
<polyline points="316.7,40.0 316.7,54.4 316.8,69.2 316.9,84.3 317.0,99.8 317.1,115.6 317.2,131.7 317.3,145.7 317.5,159.9 317.6,174.2 317.8,188.8 318.0,203.8 318.2,219.4 318.3,235.6 318.5,252.5 318.6,264.7 318.7,277.5 318.8,290.8 318.9,304.5 319.0,318.6 319.1,333.0 319.2,347.6 319.2,362.5 319.3,377.5 319.4,392.5 319.5,407.7 319.6,422.8 319.7,437.8 319.8,452.8 319.9,467.5 320.0,482.0 320.1,496.4 320.2,510.8 320.3,525.2 320.4,539.6 320.5,554.0 320.7,568.5 320.8,582.9 320.9,597.3 321.0,611.7 321.1,626.2 321.3,640.6 321.4,655.0 321.5,669.4 321.7,683.8 321.8,698.2 322.0,712.6 322.2,726.9 322.3,741.3 322.5,755.6 322.7,769.9 322.9,784.2 323.0,798.6 323.2,812.9 323.5,827.2 323.7,841.5 323.9,855.8 324.1,870.1 324.4,884.4 324.6,898.7 324.9,913.0 325.2,927.3 325.5,941.6 325.8,955.9 326.2,970.2 326.5,984.5 326.9,998.9 327.3,1013.2 327.7,1027.6 328.2,1041.9 328.7,1056.3 329.2,1070.6 329.7,1084.9 330.3,1099.1 330.9,1113.4 331.5,1127.6 332.2,1141.7 332.9,1155.8 333.6,1169.8 334.4,1184.3 335.3,1199.0 336.3,1213.8 337.4,1228.6 338.6,1243.4 339.9,1258.2 341.3,1272.9 342.7,1287.5 344.3,1301.9 346.0,1316.1 347.7,1330.1 349.6,1343.7 351.6,1357.0 353.6,1370.0 355.8,1382.5 358.9,1397.8 362.6,1413.2 366.8,1428.6 371.6,1443.7 376.8,1458.3 382.4,1472.3 388.3,1485.3 394.4,1497.2 400.8,1507.8 407.2,1516.8 417.3,1528.0 428.7,1537.9 441.1,1546.5 454.5,1554.1 468.5,1560.6 481.7,1565.6 496.3,1570.4 511.8,1574.7 527.8,1578.7 543.7,1582.2 558.9,1585.2 572.9,1587.6 590.3,1590.1 606.5,1592.2 622.5,1594.0 639.1,1595.6 654.1,1596.9 669.5,1598.1 685.1,1599.2 700.5,1600.3 715.7,1601.5 732.9,1603.1 749.6,1604.7 766.7,1606.3 785.0,1607.5 799.4,1608.2 814.6,1608.8 830.4,1609.4 846.7,1609.9 863.2,1610.4 879.8,1610.9 896.3,1611.4 911.8,1611.8 927.7,1612.3 943.9,1612.7 960.1,1613.0 976.2,1613.4 992.0,1613.8 1007.4,1614.2 1022.1,1614.6 1037.9,1615.1 1053.3,1615.6 1068.2,1616.0 1082.8,1616.5 1097.1,1617.0 1111.3,1617.4 1126.4,1617.8 1141.2,1618.2 1155.7,1618.6 1170.2,1619.0 1184.8,1619.4 1199.6,1619.8 1214.5,1620.2 1229.4,1620.6 1244.2,1620.9 1259.0,1621.3 1273.5,1621.6 1287.9,1622.0 1302.2,1622.3 1316.6,1622.6 1331.0,1623.0 1345.5,1623.5 1360.2,1624.3 1374.8,1625.0 1389.2,1625.5 1403.4,1625.7 1419.6,1625.7 1435.4,1625.7 1451.1,1625.7 1466.9,1625.7 1482.7,1625.8 1498.4,1626.1 1514.3,1626.5 1530.5,1626.7 1544.7,1626.8 1559.2,1626.9 1573.9,1627.0 1588.5,1627.1 1602.8,1627.2 1619.6,1627.3 1636.2,1627.3 1652.8,1627.4 1669.5,1627.5 1683.5,1627.6 1697.7,1627.8 1712.0,1628.0 1726.1,1628.2 1740.0,1628.3 1756.0,1628.4 1771.6,1628.5 1787.3,1628.5 1803.5,1628.6 1817.7,1628.7 1831.7,1628.7 1846.2,1628.8 1861.9,1628.8 1879.3,1628.9 1890.8,1628.9 1903.2,1629.0 1916.6,1629.0 1930.6,1629.1 1945.3,1629.2 1960.5,1629.2 1976.1,1629.3 1992.1,1629.3 2008.1,1629.4 2024.3,1629.4 2040.4,1629.4 2056.3,1629.5 2072.0,1629.5 2087.3,1629.5 2101.7,1629.5 2116.2,1629.5 2130.7,1629.5 2145.2,1629.4 2159.7,1629.4 2174.3,1629.4 2188.9,1629.3 2203.5,1629.3 2218.1,1629.2 2232.8,1629.1 2247.5,1629.1 2262.2,1629.0 2276.9,1628.9 2291.7,1628.8 2306.5,1628.7" fill="none" stroke="#00ffff" stroke-width="11.3" stroke-linejoin="round" stroke-linecap="butt" clip-path="url(#ca)"/>
<polygon points="317.2,104.7 344.2,131.7 317.2,158.7 290.2,131.7" fill="#00ffff"/>
<polygon points="318.5,225.5 345.5,252.5 318.5,279.5 291.5,252.5" fill="#00ffff"/>
<polygon points="320.0,455.0 347.0,482.0 320.0,509.0 293.0,482.0" fill="#00ffff"/>
<polygon points="322.0,685.6 349.0,712.6 322.0,739.6 295.0,712.6" fill="#00ffff"/>
<polygon points="325.5,914.6 352.5,941.6 325.5,968.6 298.5,941.6" fill="#00ffff"/>
<polygon points="333.6,1142.8 360.6,1169.8 333.6,1196.8 306.6,1169.8" fill="#00ffff"/>
<polygon points="355.8,1355.5 382.8,1382.5 355.8,1409.5 328.8,1382.5" fill="#00ffff"/>
<polygon points="407.2,1489.8 434.2,1516.8 407.2,1543.8 380.2,1516.8" fill="#00ffff"/>
<polygon points="468.5,1533.6 495.5,1560.6 468.5,1587.6 441.5,1560.6" fill="#00ffff"/>
<polygon points="572.9,1560.6 599.9,1587.6 572.9,1614.6 545.9,1587.6" fill="#00ffff"/>
<polygon points="639.1,1568.6 666.1,1595.6 639.1,1622.6 612.1,1595.6" fill="#00ffff"/>
<polygon points="715.7,1574.5 742.7,1601.5 715.7,1628.5 688.7,1601.5" fill="#00ffff"/>
<polygon points="785.0,1580.5 812.0,1607.5 785.0,1634.5 758.0,1607.5" fill="#00ffff"/>
<polygon points="896.3,1584.4 923.3,1611.4 896.3,1638.4 869.3,1611.4" fill="#00ffff"/>
<polygon points="1022.1,1587.6 1049.1,1614.6 1022.1,1641.6 995.1,1614.6" fill="#00ffff"/>
<polygon points="1111.3,1590.4 1138.3,1617.4 1111.3,1644.4 1084.3,1617.4" fill="#00ffff"/>
<polygon points="1184.8,1592.4 1211.8,1619.4 1184.8,1646.4 1157.8,1619.4" fill="#00ffff"/>
<polygon points="1259.0,1594.3 1286.0,1621.3 1259.0,1648.3 1232.0,1621.3" fill="#00ffff"/>
<polygon points="1331.0,1596.0 1358.0,1623.0 1331.0,1650.0 1304.0,1623.0" fill="#00ffff"/>
<polygon points="1403.4,1598.7 1430.4,1625.7 1403.4,1652.7 1376.4,1625.7" fill="#00ffff"/>
<polygon points="1466.9,1598.7 1493.9,1625.7 1466.9,1652.7 1439.9,1625.7" fill="#00ffff"/>
<polygon points="1530.5,1599.7 1557.5,1626.7 1530.5,1653.7 1503.5,1626.7" fill="#00ffff"/>
<polygon points="1602.8,1600.2 1629.8,1627.2 1602.8,1654.2 1575.8,1627.2" fill="#00ffff"/>
<polygon points="1669.5,1600.5 1696.5,1627.5 1669.5,1654.5 1642.5,1627.5" fill="#00ffff"/>
<polygon points="1740.0,1601.3 1767.0,1628.3 1740.0,1655.3 1713.0,1628.3" fill="#00ffff"/>
<polygon points="1803.5,1601.6 1830.5,1628.6 1803.5,1655.6 1776.5,1628.6" fill="#00ffff"/>
<polygon points="1879.3,1601.9 1906.3,1628.9 1879.3,1655.9 1852.3,1628.9" fill="#00ffff"/>
<polygon points="2087.3,1602.5 2114.3,1629.5 2087.3,1656.5 2060.3,1629.5" fill="#00ffff"/>
<polygon points="2306.5,1601.7 2333.5,1628.7 2306.5,1655.7 2279.5,1628.7" fill="#00ffff"/>
<polyline points="545.3,79.7 547.3,94.4 549.5,109.0 551.6,123.5 553.9,137.9 556.1,152.2 558.5,166.3 560.9,180.3 563.3,194.2 565.8,208.0 568.3,221.7 570.9,235.2 573.9,250.2 576.9,264.9 580.0,279.4 583.3,293.7 586.6,307.9 589.9,322.2 593.4,336.6 597.0,351.3 600.6,366.2 603.9,379.9 607.4,393.8 610.9,408.0 614.6,422.2 618.3,436.6 622.0,451.0 625.9,465.4 629.8,479.6 633.8,493.7 637.8,507.7 641.9,521.3 646.2,535.2 650.6,548.9 655.0,562.6 659.6,576.1 664.2,589.5 668.9,602.8 673.7,616.0 678.6,629.1 683.6,642.2 688.7,655.1 694.2,668.8 699.7,682.3 705.3,695.6 711.1,708.8 717.0,721.9 723.1,735.1 729.4,748.3 736.1,761.7 743.1,775.3 749.4,787.1 756.0,799.1 762.9,811.3 770.1,823.5 777.5,835.9 785.1,848.2 793.0,860.5 801.0,872.7 809.3,884.8 817.6,896.7 826.2,908.4 834.8,919.8 843.9,931.4 853.3,942.9 862.9,954.3 872.8,965.7 883.0,976.9 893.4,988.1 904.0,999.0 914.7,1009.8 925.6,1020.3 936.7,1030.7 947.9,1040.8 959.2,1050.6 970.0,1059.6 981.0,1068.6 992.2,1077.5 1003.7,1086.2 1015.3,1094.9 1027.1,1103.3 1039.1,1111.6 1051.1,1119.7 1063.2,1127.6 1075.4,1135.3 1087.5,1142.7 1099.7,1149.8 1111.9,1156.7 1124.6,1163.6 1137.5,1170.3 1150.3,1176.8 1163.3,1183.1 1176.3,1189.2 1189.4,1195.1 1202.6,1200.9 1215.8,1206.6 1229.2,1212.2 1242.6,1217.7 1256.2,1223.1 1269.8,1228.4 1283.0,1233.5 1296.4,1238.5 1310.0,1243.4 1323.6,1248.3 1337.4,1253.0 1351.2,1257.7 1365.1,1262.4 1378.9,1266.9 1392.8,1271.3 1406.6,1275.6 1420.4,1279.7 1434.1,1283.8 1447.6,1287.7 1461.4,1291.6 1475.2,1295.4 1488.9,1299.2 1502.5,1302.8 1516.1,1306.4 1529.7,1309.9 1543.3,1313.3 1556.9,1316.6 1570.5,1319.8 1584.2,1322.9 1598.0,1325.9 1611.9,1328.9 1626.2,1331.8 1640.6,1334.7 1655.1,1337.5 1669.7,1340.2 1684.3,1342.9 1698.9,1345.5 1713.5,1348.0 1728.1,1350.5 1742.7,1352.9 1757.2,1355.3 1771.7,1357.6 1786.0,1359.9 1800.9,1362.3 1815.7,1364.5 1830.3,1366.8 1844.9,1368.9 1859.4,1371.0 1874.0,1373.1 1888.7,1375.2 1903.5,1377.2 1918.5,1379.3 1933.7,1381.3 1949.2,1383.4 1963.2,1385.2 1977.6,1387.1 1992.3,1389.0 2007.1,1390.9 2022.2,1392.8 2037.4,1394.6 2052.6,1396.5 2067.8,1398.3 2082.9,1400.1 2097.8,1401.9 2112.6,1403.5 2127.1,1405.2 2141.2,1406.7 2155.0,1408.2 2171.5,1409.9 2188.5,1411.6 2205.6,1413.3 2222.6,1415.0 2239.1,1416.6 2255.0,1418.1 2269.9,1419.5 2283.5,1420.7 2295.7,1421.8 2306.0,1422.7 2325.8,1424.4 2340.0,1425.5" fill="none" stroke="#ff0000" stroke-width="11.3" stroke-linejoin="round" stroke-linecap="butt" clip-path="url(#ca)"/>
<rect x="550.9" y="215.2" width="40.0" height="40.0" fill="#ff0000"/>
<rect x="580.6" y="346.2" width="40.0" height="40.0" fill="#ff0000"/>
<rect x="621.9" y="501.3" width="40.0" height="40.0" fill="#ff0000"/>
<rect x="668.7" y="635.1" width="40.0" height="40.0" fill="#ff0000"/>
<rect x="723.1" y="755.3" width="40.0" height="40.0" fill="#ff0000"/>
<rect x="814.8" y="899.8" width="40.0" height="40.0" fill="#ff0000"/>
<rect x="939.2" y="1030.6" width="40.0" height="40.0" fill="#ff0000"/>
<rect x="1091.9" y="1136.7" width="40.0" height="40.0" fill="#ff0000"/>
<rect x="1249.8" y="1208.4" width="40.0" height="40.0" fill="#ff0000"/>
<rect x="1427.6" y="1267.7" width="40.0" height="40.0" fill="#ff0000"/>
<rect x="1591.9" y="1308.9" width="40.0" height="40.0" fill="#ff0000"/>
<rect x="1766.0" y="1339.9" width="40.0" height="40.0" fill="#ff0000"/>
<rect x="1929.2" y="1363.4" width="40.0" height="40.0" fill="#ff0000"/>
<rect x="2135.0" y="1388.2" width="40.0" height="40.0" fill="#ff0000"/>
<path d="M303.8 80.9H2306.0V1693.7M507.6 80.9v12.5M707.4 80.9v21.0M907.3 80.9v12.5M1107.1 80.9v21.0M1306.9 80.9v12.5M1506.7 80.9v21.0M1706.5 80.9v12.5M1906.4 80.9v21.0M2106.2 80.9v12.5M2306.0 1555.6h-12.5M2306.0 1421.6h-21.0M2306.0 1287.5h-12.5M2306.0 1153.4h-21.0M2306.0 1019.4h-12.5M2306.0 885.3h-21.0M2306.0 751.2h-12.5M2306.0 617.2h-21.0M2306.0 483.1h-12.5M2306.0 349.0h-21.0M2306.0 215.0h-12.5" stroke="#000" stroke-width="8" fill="none" stroke-linejoin="miter"/>
<rect x="525.3" y="59.7" width="40.0" height="40.0" fill="#ff0000"/>
<text transform="translate(32.5,148.6) scale(1.0700,1.0000)" font-size="103.0" text-anchor="start" font-weight="bold" font-style="normal">(a)</text>
<text transform="translate(133.6,844) rotate(-90) scale(1.03,1)" font-size="129" text-anchor="middle" font-style="italic"><tspan>c</tspan><tspan font-size="110">/</tspan><tspan>a</tspan></text>
<text transform="translate(1248.8,1868.2) scale(1.1150,1.0000)" font-size="128.0" text-anchor="start" font-weight="normal" font-style="italic">a</text>
<text transform="translate(1319.3,1831.5) scale(1.0500,1.3100)" font-size="80.0" text-anchor="start" font-weight="normal" font-style="normal" font-family="DejaVu Serif, Liberation Serif, serif">*</text>
<rect x="958.7" y="126.2" width="568.6" height="106.8" fill="none" stroke="#000" stroke-width="4.5"/>
<text transform="translate(966.5,204.2) scale(1.0000,1.0000)" font-size="75.7" text-anchor="start" font-weight="bold" font-style="normal">Insulating punch</text>
<text x="1000" y="331.5" font-size="80"><tspan font-weight="bold">PZT</tspan>−<tspan font-weight="bold">4,</tspan></text>
<text transform="translate(1282.5,331.5) scale(1.1700,1.0000)" font-size="78.0" text-anchor="start" font-weight="normal" font-style="normal">α=π</text>
<text transform="translate(1429.0,331.5) scale(1.0000,1.0000)" font-size="78.0" text-anchor="start" font-weight="normal" font-style="italic">/3</text>
<rect x="1813.5" y="123.5" width="422.8" height="637.5" fill="none" stroke="#000" stroke-width="5.5"/>
<line x1="1825.5" y1="183.3" x2="1976.6" y2="183.3" stroke="#ff0000" stroke-width="11.6" stroke-linecap="round"/>
<rect x="1881.3" y="164.3" width="38.0" height="38.0" fill="#ff0000"/>
<text transform="translate(2012.5,209.1) scale(1.0350,1.0000)" font-size="73.0" text-anchor="start" font-weight="normal" font-style="normal">λ=0.05</text>
<line x1="1825.5" y1="314.3" x2="1976.6" y2="314.3" stroke="#00ff00" stroke-width="11.6" stroke-linecap="round"/>
<polygon points="1900.3,285.4 1875.3,328.7 1925.3,328.7" fill="#00ff00"/>
<text transform="translate(2012.5,340.7) scale(1.0350,1.0000)" font-size="73.0" text-anchor="start" font-weight="normal" font-style="normal">λ=0.1</text>
<line x1="1825.5" y1="444.9" x2="1976.6" y2="444.9" stroke="#0000ff" stroke-width="11.6" stroke-linecap="round"/>
<circle cx="1900.3" cy="444.9" r="20.7" fill="#0000ff"/>
<text transform="translate(2012.5,471.4) scale(1.0350,1.0000)" font-size="73.0" text-anchor="start" font-weight="normal" font-style="normal">λ=0.2</text>
<line x1="1825.5" y1="576.2" x2="1976.6" y2="576.2" stroke="#ff00ff" stroke-width="11.6" stroke-linecap="round"/>
<polygon points="1900.3,551.7 1905.8,568.6 1923.6,568.6 1909.2,579.1 1914.7,596.0 1900.3,585.6 1885.9,596.0 1891.4,579.1 1877.0,568.6 1894.8,568.6" fill="#ff00ff"/>
<text transform="translate(2012.5,602.6) scale(1.0350,1.0000)" font-size="73.0" text-anchor="start" font-weight="normal" font-style="normal">λ=0.5</text>
<line x1="1825.5" y1="706.8" x2="1976.6" y2="706.8" stroke="#00ffff" stroke-width="11.6" stroke-linecap="round"/>
<polygon points="1900.3,679.3 1927.8,706.8 1900.3,734.3 1872.8,706.8" fill="#00ffff"/>
<text transform="translate(2012.5,733.3) scale(1.0350,1.0000)" font-size="73.0" text-anchor="start" font-weight="normal" font-style="normal">λ=1.0</text>
</g>
<g id="panel-b">
<path d="M291.0 1967.5V3601.7H2318.0M493.3 3601.7v-12.5M695.6 3601.7v-21.0M897.9 3601.7v-12.5M1100.2 3601.7v-21.0M1302.5 3601.7v-12.5M1504.8 3601.7v-21.0M1707.1 3601.7v-12.5M1909.4 3601.7v-21.0M2111.7 3601.7v-12.5M291.0 3397.9h12.5M291.0 3194.1h21.0M291.0 2990.4h12.5M291.0 2786.6h21.0M291.0 2582.8h12.5M291.0 2379.1h21.0M291.0 2175.3h12.5" stroke="#000" stroke-width="8" fill="none" stroke-linejoin="miter"/>
<text transform="translate(291.0,3688.0) scale(1.0200,1.0000)" font-size="82.5" text-anchor="middle" font-weight="bold" font-style="normal">0</text>
<text transform="translate(695.6,3688.0) scale(1.0200,1.0000)" font-size="82.5" text-anchor="middle" font-weight="bold" font-style="normal">2</text>
<text transform="translate(1100.2,3688.0) scale(1.0200,1.0000)" font-size="82.5" text-anchor="middle" font-weight="bold" font-style="normal">4</text>
<text transform="translate(1504.8,3688.0) scale(1.0200,1.0000)" font-size="82.5" text-anchor="middle" font-weight="bold" font-style="normal">6</text>
<text transform="translate(1909.4,3688.0) scale(1.0200,1.0000)" font-size="82.5" text-anchor="middle" font-weight="bold" font-style="normal">8</text>
<text transform="translate(2314.0,3688.0) scale(1.0200,1.0000)" font-size="82.5" text-anchor="middle" font-weight="bold" font-style="normal">10</text>
<text transform="translate(269.0,3625.5) scale(1.0200,1.0000)" font-size="82.5" text-anchor="end" font-weight="bold" font-style="normal">2</text>
<text transform="translate(269.0,3217.9) scale(1.0200,1.0000)" font-size="82.5" text-anchor="end" font-weight="bold" font-style="normal">4</text>
<text transform="translate(269.0,2810.4) scale(1.0200,1.0000)" font-size="82.5" text-anchor="end" font-weight="bold" font-style="normal">6</text>
<text transform="translate(269.0,2402.9) scale(1.0200,1.0000)" font-size="82.5" text-anchor="end" font-weight="bold" font-style="normal">8</text>
<text transform="translate(269.0,1995.3) scale(1.0200,1.0000)" font-size="82.5" text-anchor="end" font-weight="bold" font-style="normal">10</text>
<polyline points="517.4,1969.4 518.9,1983.4 520.4,1997.3 521.9,2011.3 523.5,2025.3 525.1,2039.4 526.6,2053.4 528.2,2067.4 529.8,2081.5 531.4,2095.6 533.1,2109.7 534.7,2123.8 536.4,2138.1 538.0,2152.5 539.7,2166.9 541.3,2181.3 543.0,2195.8 544.7,2210.2 546.5,2224.7 548.3,2239.1 550.1,2253.5 552.0,2267.8 554.0,2282.1 556.0,2296.2 558.2,2310.3 560.4,2324.4 562.7,2338.5 565.0,2352.5 567.4,2366.5 569.8,2380.5 572.3,2394.4 574.8,2408.2 577.4,2421.9 579.9,2435.6 582.6,2449.9 585.3,2464.0 588.1,2478.0 590.9,2491.9 593.8,2505.8 596.7,2519.7 599.8,2533.6 602.8,2547.5 606.0,2561.5 609.3,2575.7 612.5,2589.3 615.8,2603.0 619.2,2616.9 622.7,2630.7 626.2,2644.7 629.9,2658.6 633.6,2672.4 637.5,2686.2 641.4,2699.9 645.3,2713.5 649.4,2726.9 653.8,2740.9 658.3,2754.9 663.0,2768.8 667.7,2782.6 672.6,2796.3 677.6,2809.9 682.8,2823.4 688.0,2836.8 693.4,2850.2 698.9,2863.4 705.0,2877.7 711.2,2891.7 717.6,2905.6 724.1,2919.4 730.9,2933.2 737.9,2946.9 745.2,2960.7 752.9,2974.5 760.9,2988.4 768.1,3000.4 775.9,3012.7 784.1,3025.2 792.6,3037.9 801.5,3050.5 810.5,3063.1 819.7,3075.5 828.9,3087.6 838.1,3099.2 847.2,3110.4 856.0,3121.0 864.6,3130.8 875.5,3142.9 885.9,3154.0 896.2,3164.5 906.5,3174.5 917.2,3184.5 928.7,3194.6 941.0,3205.1 951.0,3213.3 961.7,3221.7 972.9,3230.3 984.7,3239.0 996.8,3247.7 1009.3,3256.3 1021.9,3264.9 1034.7,3273.3 1047.6,3281.4 1060.4,3289.2 1073.0,3296.7 1085.5,3303.7 1098.3,3310.6 1111.2,3317.3 1124.1,3323.7 1137.1,3330.0 1150.1,3336.1 1163.2,3342.0 1176.3,3347.8 1189.5,3353.4 1202.7,3358.9 1215.9,3364.3 1229.2,3369.6 1242.4,3374.8 1255.6,3379.9 1268.7,3384.9 1281.9,3389.7 1295.1,3394.5 1308.4,3399.2 1321.8,3403.8 1335.4,3408.3 1349.2,3412.7 1363.3,3417.0 1377.6,3421.3 1390.6,3425.1 1404.0,3428.8 1417.7,3432.5 1431.6,3436.2 1445.8,3439.8 1460.0,3443.4 1474.4,3446.9 1488.7,3450.4 1503.0,3453.8 1517.1,3457.0 1531.1,3460.2 1544.9,3463.3 1558.3,3466.2 1571.4,3469.0 1586.7,3472.2 1601.6,3475.3 1616.1,3478.2 1630.4,3481.0 1644.6,3483.7 1658.8,3486.3 1673.1,3489.0 1687.5,3491.6 1702.3,3494.2 1717.5,3496.8 1730.9,3499.1 1744.4,3501.4 1758.2,3503.7 1772.1,3506.0 1786.2,3508.3 1800.3,3510.5 1814.6,3512.8 1828.9,3515.0 1843.3,3517.1 1857.7,3519.3 1872.1,3521.4 1886.4,3523.4 1900.8,3525.4 1914.6,3527.3 1928.6,3529.1 1942.8,3530.9 1957.1,3532.8 1971.5,3534.6 1985.9,3536.3 2000.2,3538.0 2014.5,3539.7 2028.6,3541.4 2042.6,3543.0 2056.3,3544.6 2069.7,3546.1 2082.8,3547.6 2095.5,3549.0 2111.3,3550.8 2126.8,3552.5 2141.9,3554.1 2156.8,3555.7 2171.4,3557.3 2185.6,3558.7 2199.5,3560.1 2213.1,3561.5 2226.3,3562.7 2242.4,3564.1 2258.5,3565.5 2274.2,3566.8 2288.9,3568.0 2302.3,3569.1 2314.0,3570.0 2331.4,3571.4 2345.0,3572.5" fill="none" stroke="#00ffff" stroke-width="11.3" stroke-linejoin="round" stroke-linecap="butt" clip-path="url(#cb)"/>
<polygon points="517.4,1942.4 544.4,1969.4 517.4,1996.4 490.4,1969.4" fill="#00ffff"/>
<polygon points="534.7,2096.8 561.7,2123.8 534.7,2150.8 507.7,2123.8" fill="#00ffff"/>
<polygon points="554.0,2255.1 581.0,2282.1 554.0,2309.1 527.0,2282.1" fill="#00ffff"/>
<polygon points="579.9,2408.6 606.9,2435.6 579.9,2462.6 552.9,2435.6" fill="#00ffff"/>
<polygon points="609.3,2548.7 636.3,2575.7 609.3,2602.7 582.3,2575.7" fill="#00ffff"/>
<polygon points="649.4,2699.9 676.4,2726.9 649.4,2753.9 622.4,2726.9" fill="#00ffff"/>
<polygon points="698.9,2836.4 725.9,2863.4 698.9,2890.4 671.9,2863.4" fill="#00ffff"/>
<polygon points="760.9,2961.4 787.9,2988.4 760.9,3015.4 733.9,2988.4" fill="#00ffff"/>
<polygon points="864.6,3103.8 891.6,3130.8 864.6,3157.8 837.6,3130.8" fill="#00ffff"/>
<polygon points="941.0,3178.1 968.0,3205.1 941.0,3232.1 914.0,3205.1" fill="#00ffff"/>
<polygon points="1085.5,3276.7 1112.5,3303.7 1085.5,3330.7 1058.5,3303.7" fill="#00ffff"/>
<polygon points="1229.2,3342.6 1256.2,3369.6 1229.2,3396.6 1202.2,3369.6" fill="#00ffff"/>
<polygon points="1377.6,3394.3 1404.6,3421.3 1377.6,3448.3 1350.6,3421.3" fill="#00ffff"/>
<polygon points="1571.4,3442.0 1598.4,3469.0 1571.4,3496.0 1544.4,3469.0" fill="#00ffff"/>
<polygon points="1717.5,3469.8 1744.5,3496.8 1717.5,3523.8 1690.5,3496.8" fill="#00ffff"/>
<polygon points="1900.8,3498.4 1927.8,3525.4 1900.8,3552.4 1873.8,3525.4" fill="#00ffff"/>
<polygon points="2095.5,3522.0 2122.5,3549.0 2095.5,3576.0 2068.5,3549.0" fill="#00ffff"/>
<polygon points="2226.3,3535.7 2253.3,3562.7 2226.3,3589.7 2199.3,3562.7" fill="#00ffff"/>
<polyline points="681.3,1994.5 682.7,2009.4 684.1,2024.6 685.6,2040.1 687.1,2055.8 688.7,2071.8 690.3,2088.0 691.7,2101.8 693.1,2115.9 694.5,2130.2 696.0,2144.7 697.5,2159.3 699.1,2173.9 700.7,2188.5 702.3,2203.0 704.0,2217.8 705.9,2233.1 707.8,2248.5 709.8,2263.8 711.8,2278.9 713.8,2293.4 715.7,2307.1 717.5,2319.8 719.9,2335.8 722.1,2350.0 724.4,2364.3 727.1,2380.6 729.2,2393.3 731.6,2407.4 734.2,2422.5 736.9,2438.3 739.7,2454.4 742.7,2470.6 745.6,2486.5 748.4,2501.7 751.2,2516.0 754.6,2532.9 758.0,2549.2 761.3,2565.1 764.8,2580.7 768.3,2596.1 772.0,2611.7 775.8,2626.8 779.6,2641.7 783.6,2656.5 787.8,2671.4 792.1,2686.5 796.6,2702.0 800.6,2715.6 804.7,2729.6 809.1,2743.9 813.5,2758.3 818.1,2772.7 822.7,2786.9 827.4,2800.7 832.2,2814.0 838.0,2829.2 843.8,2844.0 849.9,2858.5 856.0,2872.7 862.3,2886.8 868.8,2901.0 875.4,2915.1 882.1,2929.2 889.1,2943.2 896.2,2957.1 903.4,2970.8 910.9,2984.4 918.5,2997.6 926.3,3010.8 934.3,3023.8 942.5,3036.6 950.9,3049.3 959.5,3061.8 968.4,3074.2 977.5,3086.5 986.9,3098.6 996.5,3110.5 1006.4,3122.3 1016.5,3134.0 1027.3,3145.9 1038.4,3157.8 1049.9,3169.6 1061.6,3181.1 1073.5,3192.2 1085.5,3203.0 1097.4,3213.1 1109.5,3223.0 1121.8,3232.6 1134.3,3241.9 1147.0,3251.0 1160.0,3260.0 1171.8,3267.8 1183.8,3275.6 1196.1,3283.1 1208.5,3290.6 1221.1,3297.9 1233.8,3305.0 1246.5,3312.0 1259.5,3319.0 1272.6,3325.8 1285.8,3332.5 1299.1,3339.1 1312.6,3345.5 1326.2,3351.8 1340.0,3358.0 1352.9,3363.6 1366.0,3369.2 1379.3,3374.7 1392.8,3380.2 1406.3,3385.5 1419.7,3390.6 1432.9,3395.4 1446.0,3400.0 1461.7,3405.3 1477.0,3410.3 1492.2,3415.1 1507.5,3419.6 1523.2,3424.1 1539.5,3428.5 1552.4,3431.8 1565.6,3435.0 1579.1,3438.1 1592.8,3441.2 1606.7,3444.3 1620.7,3447.3 1634.8,3450.3 1648.8,3453.3 1662.7,3456.3 1676.9,3459.4 1691.3,3462.6 1705.7,3465.7 1720.2,3468.9 1734.7,3472.0 1749.1,3475.0 1763.4,3478.0 1777.5,3480.8 1791.5,3483.5 1805.8,3486.2 1819.8,3488.7 1833.6,3491.1 1847.4,3493.5 1861.2,3495.8 1875.1,3498.1 1889.4,3500.4 1904.0,3502.8 1917.6,3505.0 1931.6,3507.2 1945.8,3509.4 1960.2,3511.7 1974.8,3513.9 1989.4,3516.1 2004.0,3518.3 2018.4,3520.4 2032.6,3522.5 2046.6,3524.5 2062.8,3526.8 2079.2,3529.1 2095.6,3531.4 2111.8,3533.7 2127.7,3535.8 2143.0,3537.8 2157.6,3539.7 2171.3,3541.4 2189.8,3543.6 2206.7,3545.5 2223.1,3547.2 2240.0,3549.0 2254.6,3550.5 2269.3,3551.9 2284.1,3553.3 2299.0,3554.7 2314.0,3556.0" fill="none" stroke="#ff00ff" stroke-width="11.3" stroke-linejoin="round" stroke-linecap="butt" clip-path="url(#cb)"/>
<polygon points="681.3,1969.5 686.9,1986.8 705.1,1986.8 690.4,1997.5 696.0,2014.7 681.3,2004.0 666.6,2014.7 672.2,1997.5 657.5,1986.8 675.7,1986.8" fill="#ff00ff"/>
<polygon points="690.3,2063.0 695.9,2080.3 714.1,2080.3 699.4,2091.0 705.0,2108.2 690.3,2097.6 675.6,2108.2 681.2,2091.0 666.5,2080.3 684.7,2080.3" fill="#ff00ff"/>
<polygon points="702.3,2178.0 707.9,2195.3 726.1,2195.3 711.4,2206.0 717.0,2223.2 702.3,2212.6 687.6,2223.2 693.2,2206.0 678.5,2195.3 696.7,2195.3" fill="#ff00ff"/>
<polygon points="717.5,2294.8 723.1,2312.1 741.3,2312.1 726.6,2322.8 732.2,2340.0 717.5,2329.4 702.8,2340.0 708.4,2322.8 693.7,2312.1 711.9,2312.1" fill="#ff00ff"/>
<polygon points="727.1,2355.6 732.7,2372.9 750.9,2372.9 736.2,2383.6 741.8,2400.8 727.1,2390.2 712.4,2400.8 718.0,2383.6 703.3,2372.9 721.5,2372.9" fill="#ff00ff"/>
<polygon points="751.2,2491.0 756.8,2508.3 775.0,2508.3 760.3,2519.0 765.9,2536.2 751.2,2525.6 736.5,2536.2 742.1,2519.0 727.4,2508.3 745.6,2508.3" fill="#ff00ff"/>
<polygon points="772.0,2586.7 777.6,2604.0 795.8,2604.0 781.1,2614.7 786.7,2631.9 772.0,2621.2 757.3,2631.9 762.9,2614.7 748.2,2604.0 766.4,2604.0" fill="#ff00ff"/>
<polygon points="796.6,2677.0 802.2,2694.3 820.4,2694.3 805.7,2705.0 811.3,2722.2 796.6,2711.6 781.9,2722.2 787.5,2705.0 772.8,2694.3 791.0,2694.3" fill="#ff00ff"/>
<polygon points="832.2,2789.0 837.8,2806.3 856.0,2806.3 841.3,2817.0 846.9,2834.2 832.2,2823.6 817.5,2834.2 823.1,2817.0 808.4,2806.3 826.6,2806.3" fill="#ff00ff"/>
<polygon points="868.8,2876.0 874.4,2893.3 892.6,2893.3 877.9,2904.0 883.5,2921.2 868.8,2910.6 854.1,2921.2 859.7,2904.0 845.0,2893.3 863.2,2893.3" fill="#ff00ff"/>
<polygon points="910.9,2959.4 916.5,2976.7 934.7,2976.7 920.0,2987.4 925.6,3004.6 910.9,2994.0 896.2,3004.6 901.8,2987.4 887.1,2976.7 905.3,2976.7" fill="#ff00ff"/>
<polygon points="959.5,3036.8 965.1,3054.1 983.3,3054.1 968.6,3064.8 974.2,3082.0 959.5,3071.4 944.8,3082.0 950.4,3064.8 935.7,3054.1 953.9,3054.1" fill="#ff00ff"/>
<polygon points="1016.5,3109.0 1022.1,3126.3 1040.3,3126.3 1025.6,3137.0 1031.2,3154.2 1016.5,3143.6 1001.8,3154.2 1007.4,3137.0 992.7,3126.3 1010.9,3126.3" fill="#ff00ff"/>
<polygon points="1085.5,3178.0 1091.1,3195.3 1109.3,3195.3 1094.6,3206.0 1100.2,3223.2 1085.5,3212.6 1070.8,3223.2 1076.4,3206.0 1061.7,3195.3 1079.9,3195.3" fill="#ff00ff"/>
<polygon points="1160.0,3235.0 1165.6,3252.3 1183.8,3252.3 1169.1,3263.0 1174.7,3280.2 1160.0,3269.6 1145.3,3280.2 1150.9,3263.0 1136.2,3252.3 1154.4,3252.3" fill="#ff00ff"/>
<polygon points="1246.5,3287.0 1252.1,3304.3 1270.3,3304.3 1255.6,3315.0 1261.2,3332.2 1246.5,3321.6 1231.8,3332.2 1237.4,3315.0 1222.7,3304.3 1240.9,3304.3" fill="#ff00ff"/>
<polygon points="1340.0,3333.0 1345.6,3350.3 1363.8,3350.3 1349.1,3361.0 1354.7,3378.2 1340.0,3367.6 1325.3,3378.2 1330.9,3361.0 1316.2,3350.3 1334.4,3350.3" fill="#ff00ff"/>
<polygon points="1446.0,3375.0 1451.6,3392.3 1469.8,3392.3 1455.1,3403.0 1460.7,3420.2 1446.0,3409.6 1431.3,3420.2 1436.9,3403.0 1422.2,3392.3 1440.4,3392.3" fill="#ff00ff"/>
<polygon points="1539.5,3403.5 1545.1,3420.8 1563.3,3420.8 1548.6,3431.5 1554.2,3448.7 1539.5,3438.1 1524.8,3448.7 1530.4,3431.5 1515.7,3420.8 1533.9,3420.8" fill="#ff00ff"/>
<polygon points="1662.7,3431.3 1668.3,3448.6 1686.5,3448.6 1671.8,3459.3 1677.4,3476.5 1662.7,3465.9 1648.0,3476.5 1653.6,3459.3 1638.9,3448.6 1657.1,3448.6" fill="#ff00ff"/>
<polygon points="1791.5,3458.5 1797.1,3475.8 1815.3,3475.8 1800.6,3486.5 1806.2,3503.7 1791.5,3493.1 1776.8,3503.7 1782.4,3486.5 1767.7,3475.8 1785.9,3475.8" fill="#ff00ff"/>
<polygon points="1904.0,3477.8 1909.6,3495.1 1927.8,3495.1 1913.1,3505.8 1918.7,3523.0 1904.0,3512.4 1889.3,3523.0 1894.9,3505.8 1880.2,3495.1 1898.4,3495.1" fill="#ff00ff"/>
<polygon points="2046.6,3499.5 2052.2,3516.8 2070.4,3516.8 2055.7,3527.5 2061.3,3544.7 2046.6,3534.1 2031.9,3544.7 2037.5,3527.5 2022.8,3516.8 2041.0,3516.8" fill="#ff00ff"/>
<polygon points="2171.3,3516.4 2176.9,3533.7 2195.1,3533.7 2180.4,3544.4 2186.0,3561.6 2171.3,3551.0 2156.6,3561.6 2162.2,3544.4 2147.5,3533.7 2165.7,3533.7" fill="#ff00ff"/>
<polygon points="2240.0,3524.0 2245.6,3541.3 2263.8,3541.3 2249.1,3552.0 2254.7,3569.2 2240.0,3558.6 2225.3,3569.2 2230.9,3552.0 2216.2,3541.3 2234.4,3541.3" fill="#ff00ff"/>
<polygon points="2314.0,3531.0 2319.6,3548.3 2337.8,3548.3 2323.1,3559.0 2328.7,3576.2 2314.0,3565.6 2299.3,3576.2 2304.9,3559.0 2290.2,3548.3 2308.4,3548.3" fill="#ff00ff"/>
<polyline points="867.4,1969.4 868.6,1983.2 869.8,1997.3 871.1,2011.6 872.5,2026.1 873.9,2040.9 875.4,2055.9 876.9,2071.1 878.5,2086.6 880.0,2101.1 881.6,2116.0 883.2,2131.2 885.0,2146.7 886.7,2162.2 888.5,2177.9 890.4,2193.5 892.3,2209.1 894.2,2224.4 896.1,2239.4 898.2,2255.0 900.3,2270.6 902.5,2286.0 904.7,2301.4 906.9,2316.6 909.3,2331.8 911.6,2346.9 914.0,2361.9 916.5,2376.9 918.9,2391.2 921.3,2405.3 923.8,2419.2 926.4,2433.2 929.0,2447.1 931.7,2461.0 934.4,2474.9 937.3,2489.0 940.3,2503.2 943.3,2516.8 946.4,2530.6 949.6,2544.5 952.9,2558.4 956.4,2572.4 959.9,2586.4 963.5,2600.3 967.1,2614.1 970.7,2627.7 974.4,2641.2 978.3,2655.3 982.2,2669.1 986.1,2682.8 990.2,2696.5 994.3,2710.0 998.5,2723.6 1002.9,2737.2 1007.5,2750.9 1012.3,2764.8 1017.2,2778.4 1022.4,2792.2 1027.9,2806.3 1033.5,2820.4 1039.4,2834.5 1045.3,2848.4 1051.3,2862.1 1057.4,2875.5 1063.4,2888.5 1069.3,2900.9 1076.3,2915.2 1083.3,2928.8 1090.3,2942.0 1097.4,2955.0 1104.7,2967.8 1112.4,2980.7 1120.6,2994.0 1128.1,3005.8 1136.1,3017.7 1144.3,3029.8 1152.9,3041.9 1161.8,3054.0 1170.8,3065.9 1180.0,3077.7 1189.3,3089.3 1198.7,3100.5 1208.2,3111.5 1218.0,3122.5 1228.1,3133.3 1238.3,3144.0 1248.7,3154.5 1259.1,3164.8 1269.6,3174.7 1280.1,3184.2 1290.4,3193.3 1302.1,3203.2 1313.6,3212.5 1325.1,3221.4 1336.7,3230.1 1348.6,3238.6 1361.0,3247.1 1373.9,3255.8 1384.9,3263.0 1396.4,3270.3 1408.2,3277.7 1420.3,3285.0 1432.7,3292.3 1445.3,3299.5 1458.0,3306.5 1470.9,3313.3 1483.8,3319.9 1496.8,3326.2 1510.5,3332.5 1524.5,3338.7 1538.7,3344.7 1553.1,3350.5 1567.6,3356.2 1582.2,3361.8 1596.8,3367.2 1611.3,3372.5 1625.7,3377.6 1639.9,3382.6 1654.7,3387.7 1669.2,3392.7 1683.7,3397.5 1698.1,3402.2 1712.6,3406.7 1727.1,3411.2 1741.8,3415.6 1756.7,3419.9 1771.8,3424.2 1785.3,3427.9 1799.1,3431.6 1813.0,3435.2 1827.0,3438.7 1841.2,3442.2 1855.4,3445.7 1869.7,3449.1 1884.0,3452.4 1898.2,3455.7 1912.5,3458.9 1926.7,3462.0 1941.0,3465.1 1955.4,3468.1 1969.9,3471.1 1984.4,3474.1 1998.9,3477.0 2013.4,3479.9 2027.8,3482.7 2042.1,3485.4 2056.1,3488.0 2069.9,3490.5 2083.4,3492.9 2099.3,3495.7 2114.9,3498.4 2130.3,3500.9 2145.4,3503.4 2160.4,3505.8 2175.2,3508.1 2190.0,3510.4 2204.7,3512.6 2220.5,3514.9 2236.2,3517.2 2251.8,3519.3 2267.3,3521.4 2282.6,3523.5 2297.8,3525.4 2312.9,3527.3" fill="none" stroke="#0000ff" stroke-width="11.3" stroke-linejoin="round" stroke-linecap="butt" clip-path="url(#cb)"/>
<circle cx="867.4" cy="1969.4" r="20.8" fill="#0000ff"/>
<circle cx="878.5" cy="2086.6" r="20.8" fill="#0000ff"/>
<circle cx="896.1" cy="2239.4" r="20.8" fill="#0000ff"/>
<circle cx="916.5" cy="2376.9" r="20.8" fill="#0000ff"/>
<circle cx="940.3" cy="2503.2" r="20.8" fill="#0000ff"/>
<circle cx="974.4" cy="2641.2" r="20.8" fill="#0000ff"/>
<circle cx="1012.3" cy="2764.8" r="20.8" fill="#0000ff"/>
<circle cx="1069.3" cy="2900.9" r="20.8" fill="#0000ff"/>
<circle cx="1120.6" cy="2994.0" r="20.8" fill="#0000ff"/>
<circle cx="1198.7" cy="3100.5" r="20.8" fill="#0000ff"/>
<circle cx="1290.4" cy="3193.3" r="20.8" fill="#0000ff"/>
<circle cx="1373.9" cy="3255.8" r="20.8" fill="#0000ff"/>
<circle cx="1496.8" cy="3326.2" r="20.8" fill="#0000ff"/>
<circle cx="1639.9" cy="3382.6" r="20.8" fill="#0000ff"/>
<circle cx="1771.8" cy="3424.2" r="20.8" fill="#0000ff"/>
<circle cx="1926.7" cy="3462.0" r="20.8" fill="#0000ff"/>
<circle cx="2083.4" cy="3492.9" r="20.8" fill="#0000ff"/>
<circle cx="2204.7" cy="3512.6" r="20.8" fill="#0000ff"/>
<circle cx="2312.9" cy="3527.3" r="20.8" fill="#0000ff"/>
<polyline points="1060.9,1969.4 1062.5,1984.9 1064.1,2000.2 1065.7,2015.3 1067.3,2030.1 1068.9,2044.7 1070.5,2059.0 1072.1,2073.1 1073.7,2087.0 1075.2,2100.6 1076.8,2113.9 1078.4,2127.0 1079.9,2139.8 1081.7,2154.9 1083.5,2169.2 1085.2,2183.1 1087.0,2196.7 1088.8,2210.2 1090.6,2223.9 1092.6,2238.1 1094.7,2252.8 1096.6,2265.8 1098.7,2279.2 1100.8,2292.9 1103.1,2306.8 1105.4,2320.9 1107.8,2335.1 1110.2,2349.4 1112.8,2363.6 1115.3,2377.8 1118.0,2391.8 1120.6,2405.6 1123.5,2420.4 1126.6,2435.3 1129.8,2450.2 1133.0,2465.1 1136.4,2479.9 1139.8,2494.6 1143.2,2509.1 1146.7,2523.5 1150.2,2537.6 1153.7,2551.4 1157.7,2566.6 1161.6,2581.4 1165.7,2596.0 1169.8,2610.4 1174.0,2624.7 1178.3,2639.0 1182.7,2653.2 1187.3,2667.6 1192.1,2682.2 1197.1,2696.7 1202.1,2711.2 1207.4,2725.7 1212.8,2740.2 1218.4,2754.8 1224.2,2769.4 1230.2,2784.0 1236.1,2797.9 1242.2,2812.0 1248.5,2826.2 1255.1,2840.5 1261.8,2854.7 1268.7,2868.7 1275.8,2882.7 1282.9,2896.3 1290.1,2909.7 1297.1,2922.3 1304.4,2934.8 1311.8,2947.2 1319.3,2959.4 1327.0,2971.5 1334.7,2983.3 1342.6,2995.0 1350.6,3006.4 1358.6,3017.6 1367.1,3029.1 1375.7,3040.4 1384.4,3051.4 1393.3,3062.2 1402.3,3072.8 1411.5,3083.3 1420.9,3093.8 1430.6,3104.2 1441.1,3115.1 1452.0,3126.0 1463.1,3136.7 1474.5,3147.4 1486.1,3157.9 1498.0,3168.2 1509.9,3178.4 1522.0,3188.2 1533.1,3196.9 1544.3,3205.6 1555.8,3214.1 1567.4,3222.4 1579.1,3230.7 1591.0,3238.7 1602.9,3246.5 1614.8,3254.1 1626.8,3261.5 1639.9,3269.3 1653.0,3276.8 1666.2,3284.1 1679.5,3291.3 1692.9,3298.2 1706.5,3305.1 1720.5,3311.9 1734.7,3318.6 1747.5,3324.5 1760.6,3330.3 1773.8,3336.1 1787.3,3341.9 1801.0,3347.5 1814.8,3353.1 1828.8,3358.5 1842.8,3363.9 1856.9,3369.1 1871.1,3374.2 1884.8,3379.0 1898.7,3383.7 1912.8,3388.4 1927.1,3393.0 1941.4,3397.5 1955.8,3402.0 1970.2,3406.3 1984.5,3410.5 1998.8,3414.6 2012.9,3418.5 2026.9,3422.2 2041.2,3425.9 2055.4,3429.5 2069.6,3432.9 2083.6,3436.2 2097.7,3439.4 2111.7,3442.6 2125.7,3445.7 2139.7,3448.7 2153.8,3451.8 2168.0,3454.8 2182.3,3457.8 2196.7,3460.9 2211.0,3463.8 2225.4,3466.8 2239.8,3469.7 2254.2,3472.5 2268.7,3475.3 2283.1,3478.1 2297.6,3480.8 2312.1,3483.5" fill="none" stroke="#ff0000" stroke-width="11.3" stroke-linejoin="round" stroke-linecap="butt" clip-path="url(#cb)"/>
<rect x="1060.7" y="2120.6" width="38.5" height="38.5" fill="#ff0000"/>
<rect x="1075.5" y="2233.6" width="38.5" height="38.5" fill="#ff0000"/>
<rect x="1101.3" y="2386.3" width="38.5" height="38.5" fill="#ff0000"/>
<rect x="1134.5" y="2532.2" width="38.5" height="38.5" fill="#ff0000"/>
<rect x="1168.0" y="2648.3" width="38.5" height="38.5" fill="#ff0000"/>
<rect x="1211.0" y="2764.8" width="38.5" height="38.5" fill="#ff0000"/>
<rect x="1270.8" y="2890.4" width="38.5" height="38.5" fill="#ff0000"/>
<rect x="1339.3" y="2998.3" width="38.5" height="38.5" fill="#ff0000"/>
<rect x="1411.3" y="3084.9" width="38.5" height="38.5" fill="#ff0000"/>
<rect x="1502.8" y="3168.9" width="38.5" height="38.5" fill="#ff0000"/>
<rect x="1607.5" y="3242.2" width="38.5" height="38.5" fill="#ff0000"/>
<rect x="1715.5" y="3299.3" width="38.5" height="38.5" fill="#ff0000"/>
<rect x="1851.8" y="3354.9" width="38.5" height="38.5" fill="#ff0000"/>
<rect x="2007.7" y="3402.9" width="38.5" height="38.5" fill="#ff0000"/>
<rect x="2148.8" y="3435.6" width="38.5" height="38.5" fill="#ff0000"/>
<rect x="2292.8" y="3464.2" width="38.5" height="38.5" fill="#ff0000"/>
<path d="M287.0 1971.5H2314.0V3605.7M493.3 1971.5v12.5M695.6 1971.5v21.0M897.9 1971.5v12.5M1100.2 1971.5v21.0M1302.5 1971.5v12.5M1504.8 1971.5v21.0M1707.1 1971.5v12.5M1909.4 1971.5v21.0M2111.7 1971.5v12.5M2314.0 3397.9h-12.5M2314.0 3194.1h-21.0M2314.0 2990.4h-12.5M2314.0 2786.6h-21.0M2314.0 2582.8h-12.5M2314.0 2379.1h-21.0M2314.0 2175.3h-12.5" stroke="#000" stroke-width="8" fill="none" stroke-linejoin="miter"/>
<rect x="1041.7" y="1950.2" width="38.5" height="38.5" fill="#ff0000"/>
<text transform="translate(30.0,2042.0) scale(1.0700,1.0000)" font-size="103.0" text-anchor="start" font-weight="bold" font-style="normal">(b)</text>
<text transform="translate(135,2743.4) rotate(-90) scale(1.03,1)" font-size="129" text-anchor="middle" font-style="italic"><tspan>c</tspan><tspan font-size="110">/</tspan><tspan>a</tspan></text>
<text transform="translate(1243.7,3782.0) scale(1.1150,1.0000)" font-size="128.0" text-anchor="start" font-weight="normal" font-style="italic">a</text>
<text transform="translate(1314.4,3743.0) scale(1.0500,1.3100)" font-size="80.0" text-anchor="start" font-weight="normal" font-style="normal" font-family="DejaVu Serif, Liberation Serif, serif">*</text>
<rect x="1125.8" y="2010.9" width="693.4" height="119.5" fill="none" stroke="#000" stroke-width="5"/>
<text transform="translate(1135.2,2099.1) scale(1.0000,1.0000)" font-size="84.5" text-anchor="start" font-weight="bold" font-style="normal">Conducting punch</text>
<text x="1234.2" y="2221.6" font-size="84"><tspan font-weight="bold">PZT</tspan>−<tspan font-weight="bold">4,</tspan></text>
<text transform="translate(1525.5,2221.6) scale(1.0800,1.0000)" font-size="82.0" text-anchor="start" font-weight="normal" font-style="normal">α=π</text>
<text transform="translate(1671.0,2221.6) scale(1.0000,1.0000)" font-size="82.0" text-anchor="start" font-weight="normal" font-style="italic">/3</text>
<text transform="translate(1372.5,2339.7) scale(1.0300,1.0000)" font-size="83.0" text-anchor="start" font-weight="normal" font-style="normal">λ=0.2</text>
<rect x="1862.8" y="2013.5" width="410.4" height="546.6" fill="none" stroke="#000" stroke-width="6"/>
<line x1="1874.1" y1="2078.6" x2="2025.8" y2="2078.6" stroke="#00ffff" stroke-width="12" stroke-linecap="round"/>
<polygon points="1949.1,2051.1 1976.6,2078.6 1949.1,2106.1 1921.6,2078.6" fill="#00ffff"/>
<text transform="translate(2063.0,2107.4) scale(1.0000,1.0000)" font-size="78.0" text-anchor="start" font-weight="normal" font-style="normal">ϕ</text>
<text transform="translate(2105.6,2081.9) scale(1.0300,1.2800)" font-size="40.0" text-anchor="start" font-weight="normal" font-style="normal" font-family="DejaVu Serif, Liberation Serif, serif">*</text>
<text transform="translate(2126.5,2107.4) scale(0.9500,1.0000)" font-size="78.0" text-anchor="start" font-weight="normal" font-style="normal">=0</text>
<line x1="1874.1" y1="2220.8" x2="2025.8" y2="2220.8" stroke="#ff00ff" stroke-width="12" stroke-linecap="round"/>
<polygon points="1949.1,2196.3 1954.6,2213.2 1972.4,2213.2 1958.0,2223.7 1963.5,2240.6 1949.1,2230.2 1934.7,2240.6 1940.2,2223.7 1925.8,2213.2 1943.6,2213.2" fill="#ff00ff"/>
<text transform="translate(2063.0,2249.6) scale(1.0000,1.0000)" font-size="78.0" text-anchor="start" font-weight="normal" font-style="normal">ϕ</text>
<text transform="translate(2105.6,2224.1) scale(1.0300,1.2800)" font-size="40.0" text-anchor="start" font-weight="normal" font-style="normal" font-family="DejaVu Serif, Liberation Serif, serif">*</text>
<text transform="translate(2126.5,2249.6) scale(0.9500,1.0000)" font-size="78.0" text-anchor="start" font-weight="normal" font-style="normal">=0.5</text>
<line x1="1874.1" y1="2363.0" x2="2025.8" y2="2363.0" stroke="#0000ff" stroke-width="12" stroke-linecap="round"/>
<circle cx="1949.1" cy="2363.0" r="21.0" fill="#0000ff"/>
<text transform="translate(2063.0,2391.1) scale(1.0000,1.0000)" font-size="78.0" text-anchor="start" font-weight="normal" font-style="normal">ϕ</text>
<text transform="translate(2105.6,2365.6) scale(1.0300,1.2800)" font-size="40.0" text-anchor="start" font-weight="normal" font-style="normal" font-family="DejaVu Serif, Liberation Serif, serif">*</text>
<text transform="translate(2126.5,2391.1) scale(0.9500,1.0000)" font-size="78.0" text-anchor="start" font-weight="normal" font-style="normal">=1.0</text>
<line x1="1874.1" y1="2505.2" x2="2025.8" y2="2505.2" stroke="#ff0000" stroke-width="12" stroke-linecap="round"/>
<rect x="1929.1" y="2485.2" width="40.0" height="40.0" fill="#ff0000"/>
<text transform="translate(2063.0,2533.3) scale(1.0000,1.0000)" font-size="78.0" text-anchor="start" font-weight="normal" font-style="normal">ϕ</text>
<text transform="translate(2105.6,2507.8) scale(1.0300,1.2800)" font-size="40.0" text-anchor="start" font-weight="normal" font-style="normal" font-family="DejaVu Serif, Liberation Serif, serif">*</text>
<text transform="translate(2126.5,2533.3) scale(0.9500,1.0000)" font-size="78.0" text-anchor="start" font-weight="normal" font-style="normal">=1.5</text>
</g>
</svg></body></html>
